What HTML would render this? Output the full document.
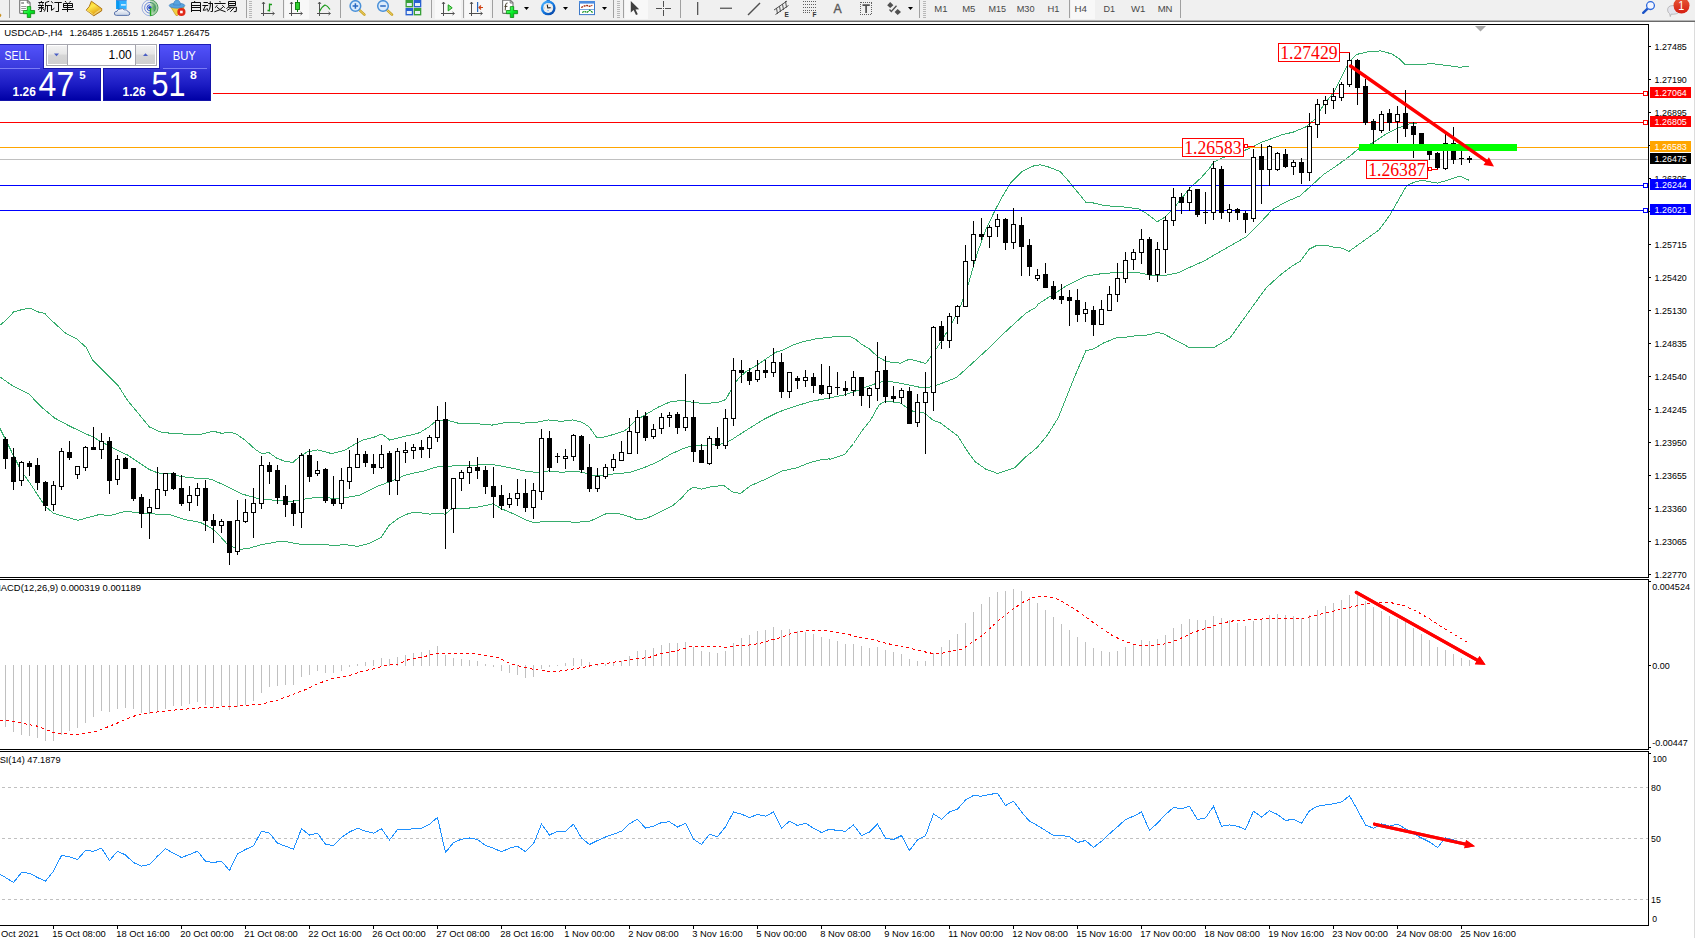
<!DOCTYPE html>
<html><head><meta charset="utf-8"><title>USDCAD-,H4</title>
<style>html,body{margin:0;padding:0;background:#fff;overflow:hidden}svg{display:block}text{font-family:"Liberation Sans",sans-serif}</style></head><body>
<svg width="1695" height="938" viewBox="0 0 1695 938">
<defs>
<linearGradient id="gb" x1="0" y1="0" x2="0" y2="1"><stop offset="0" stop-color="#3c3ce0"/><stop offset="1" stop-color="#1010c0"/></linearGradient>
<linearGradient id="gp" x1="0" y1="0" x2="0" y2="1"><stop offset="0" stop-color="#2a2ad8"/><stop offset="1" stop-color="#0000a0"/></linearGradient>
<clipPath id="cm"><rect x="0" y="25" width="1648" height="552"/></clipPath>
</defs>
<rect width="1695" height="938" fill="#fff"/>
<g shape-rendering="crispEdges"><rect x="0" y="0" width="1695" height="20" fill="#f0f0f0"/><rect x="0" y="20" width="1695" height="1" fill="#b4b4b4"/><rect x="0" y="21" width="1695" height="1" fill="#696969"/>
<rect x="9" y="0" width="1" height="18" fill="#a0a0a0"/>
<rect x="246" y="0" width="1" height="18" fill="#a0a0a0"/>
<rect x="283" y="0" width="1" height="18" fill="#a0a0a0"/>
<rect x="340" y="0" width="1" height="18" fill="#a0a0a0"/>
<rect x="431" y="0" width="1" height="18" fill="#a0a0a0"/>
<rect x="463" y="0" width="1" height="18" fill="#a0a0a0"/>
<rect x="492" y="0" width="1" height="18" fill="#a0a0a0"/>
<rect x="613" y="0" width="1" height="18" fill="#a0a0a0"/>
<rect x="623" y="0" width="1" height="18" fill="#a0a0a0"/>
<rect x="680" y="0" width="1" height="18" fill="#a0a0a0"/>
<rect x="919" y="0" width="1" height="18" fill="#a0a0a0"/>
<rect x="1180" y="0" width="1" height="18" fill="#a0a0a0"/>
<rect x="1069" y="0" width="1" height="18" fill="#a0a0a0"/><rect x="435" y="0" width="1" height="18" fill="#b4b4b4"/>
<rect x="249" y="1" width="3" height="1" fill="#b8b8b8"/>
<rect x="249" y="3" width="3" height="1" fill="#b8b8b8"/>
<rect x="249" y="5" width="3" height="1" fill="#b8b8b8"/>
<rect x="249" y="7" width="3" height="1" fill="#b8b8b8"/>
<rect x="249" y="9" width="3" height="1" fill="#b8b8b8"/>
<rect x="249" y="11" width="3" height="1" fill="#b8b8b8"/>
<rect x="249" y="13" width="3" height="1" fill="#b8b8b8"/>
<rect x="249" y="15" width="3" height="1" fill="#b8b8b8"/>
<rect x="249" y="17" width="3" height="1" fill="#b8b8b8"/>
<rect x="617" y="1" width="3" height="1" fill="#b8b8b8"/>
<rect x="617" y="3" width="3" height="1" fill="#b8b8b8"/>
<rect x="617" y="5" width="3" height="1" fill="#b8b8b8"/>
<rect x="617" y="7" width="3" height="1" fill="#b8b8b8"/>
<rect x="617" y="9" width="3" height="1" fill="#b8b8b8"/>
<rect x="617" y="11" width="3" height="1" fill="#b8b8b8"/>
<rect x="617" y="13" width="3" height="1" fill="#b8b8b8"/>
<rect x="617" y="15" width="3" height="1" fill="#b8b8b8"/>
<rect x="617" y="17" width="3" height="1" fill="#b8b8b8"/>
<rect x="923" y="1" width="3" height="1" fill="#b8b8b8"/>
<rect x="923" y="3" width="3" height="1" fill="#b8b8b8"/>
<rect x="923" y="5" width="3" height="1" fill="#b8b8b8"/>
<rect x="923" y="7" width="3" height="1" fill="#b8b8b8"/>
<rect x="923" y="9" width="3" height="1" fill="#b8b8b8"/>
<rect x="923" y="11" width="3" height="1" fill="#b8b8b8"/>
<rect x="923" y="13" width="3" height="1" fill="#b8b8b8"/>
<rect x="923" y="15" width="3" height="1" fill="#b8b8b8"/>
<rect x="923" y="17" width="3" height="1" fill="#b8b8b8"/>
<rect x="285" y="0" width="24" height="19" fill="#f8f8f8"/>
<rect x="435" y="0" width="26" height="19" fill="#f8f8f8"/>
<rect x="465" y="0" width="25" height="19" fill="#f8f8f8"/>
<rect x="625" y="0" width="23" height="19" fill="#f8f8f8"/>
<rect x="1071" y="0" width="24" height="19" fill="#f8f8f8"/>
</g>
<path d="M0 13.5 L1.5 15 L0.5 17 L0 17 Z" fill="#c89020"/>
<defs><linearGradient id="gplus" x1="0" y1="0" x2="1" y2="1"><stop offset="0" stop-color="#7cff90"/><stop offset="0.5" stop-color="#08ee28"/><stop offset="1" stop-color="#00a818"/></linearGradient></defs>
<path d="M20.3 0.2 H27.5 L30.1 2.8 V12.4 Q30.1 13.4 29.1 13.4 H20.700000000000003 Q19.700000000000003 13.4 19.700000000000003 12.4 V0.8 Q19.700000000000003 0.2 20.3 0.2 Z" fill="#fff" stroke="#747474" stroke-width="1.1"/>
<path d="M27.3 0.4 V3 H29.900000000000002" fill="none" stroke="#747474" stroke-width="1"/>
<rect x="21.2" y="2.2" width="2.8" height="1.6" fill="#8c8c8c"/><g stroke="#8c8c8c" stroke-width="0.9"><path d="M21.2 6.5H26.4M21.2 8.5H26M21.2 10.5H23.4"/></g>
<path d="M27.3 6.6 H30.700000000000003 V10.5 H34.6 V13.7 H30.700000000000003 V17.5 H27.3 V13.7 H23.400000000000002 V10.5 H27.3 Z" fill="url(#gplus)" stroke="#0a8a0a" stroke-width="0.8" stroke-linejoin="miter"/>
<g fill="none" stroke="#000" stroke-width="1" stroke-linecap="butt" opacity="0.95">
<path d="M41 1 L41.8 2 M38.4 2.5 H44 M39.5 3.3 L40 4.6 M42.8 3.3 L42.3 4.6 M38 5.5 H44 M38.4 7.5 H43.8 M41.5 5.5 V11.5 H39.6 M40.8 7.8 L38.2 9.8 M42.2 7.8 L44 10"/>
<path d="M49.2 1.3 L45.4 2.6 M45.5 2.6 V7.5 Q45.4 10 44.2 11.6 M45.5 5.5 H50 M47.5 5.5 V12"/>
<path d="M51.3 1.3 L52.8 3.2 M50.2 5.5 H52 M51.5 5.5 V10.4 L54.4 8.2 M54.4 2.5 H61.8 M58.5 2.5 V11.5 H55.6"/>
<path d="M65 1 L66.4 2.6 M70.7 1 L69.3 2.6 M63.5 3.5 H72.5 V7.5 H63.5 Z M63.5 5.5 H72.5 M67.5 3.5 V12 M62 9.5 H74"/>
<path d="M195 1 L194 2.4 M191.5 2.5 H200.5 V12 M191.5 2.5 V12 M191.5 5.5 H200.5 M191.5 7.5 H200.5 M191.5 10.5 H200.5"/>
<path d="M203.5 2.5 H207.9 M202.4 5.5 H208.2 M205.5 5.5 L203.2 10.3 L206.5 9.8 M206.9 8.2 L207.8 10.6 M208.2 3.5 H212.9 M212.5 3.5 V11.5 H210.6 M210.3 1.3 V6 Q210 9.5 207.9 11.8"/>
<path d="M219.7 1 L220.3 2.4 M214.4 3.5 H225.6 M217.3 5.2 L215.3 7.7 M222.3 5.2 L224.7 7.7 M222.9 7.2 Q220.5 10.3 214.4 11.8 M217 7.2 Q219.5 10.3 225.6 11.8"/>
<path d="M228.5 1.5 H235.5 V5.5 H228.5 Z M228.5 3.5 H235.5 M229.7 5.6 L226.5 8.8 M228.2 7.3 H236.6 M236.5 7.3 L236.2 11.5 L233.8 11.7 M231.8 7.4 L227 10.5 M234.4 7.4 L230.3 11.8"/>
</g>
<defs><linearGradient id="gbook" x1="0.2" y1="0" x2="0.7" y2="1"><stop offset="0" stop-color="#f8c820"/><stop offset="0.35" stop-color="#ffe84c"/><stop offset="0.75" stop-color="#e8b020"/><stop offset="1" stop-color="#c08010"/></linearGradient>
<linearGradient id="gcloud" x1="0" y1="0" x2="0" y2="1"><stop offset="0" stop-color="#ffffff"/><stop offset="1" stop-color="#c4d0e4"/></linearGradient>
<radialGradient id="gsig" cx="0.5" cy="0.5" r="0.5"><stop offset="0.2" stop-color="#58a858" stop-opacity="0.9"/><stop offset="1" stop-color="#7cc07c" stop-opacity="0.35"/></radialGradient></defs>
<path d="M91.4 1.2 L101.8 8.7 L101.6 10.9 L93.8 15.8 L86.2 10.1 L89.2 6.6 Z" fill="url(#gbook)" stroke="#a86c0c" stroke-width="0.9" stroke-linejoin="round"/>
<path d="M94 14.6 L101.2 9.8 M94.4 13.6 L100.6 9.4" stroke="#fff0b0" stroke-width="0.5" fill="none"/>
<path d="M86.8 10 L93.8 14.8" stroke="#fce878" stroke-width="0.8" fill="none"/>
<path d="M116.2 0 H126.6 V9 H116.2 Z" fill="#30b0ff"/><path d="M116.2 0 L119.4 1.6 V9 H116.2 Z" fill="#0898f0"/><rect x="121" y="4.2" width="4.8" height="1.4" fill="#e8f6ff"/><path d="M116.2 0 H126.6" stroke="#5878c8" stroke-width="1.2"/>
<path d="M116.6 15.4 Q114 15.4 114.4 13 Q114.8 11.2 117 11.3 Q117.6 8.8 120.4 9 Q122.6 7.8 124.2 9.8 Q127.2 9.2 127.8 11.6 Q130.2 12 129.8 14 Q129.4 15.4 127.6 15.4 Z" fill="url(#gcloud)" stroke="#4c68a4" stroke-width="0.9"/>
<path d="M150 -0.2 A8 8 0 0 1 150 15.8 Z" fill="url(#gsig)"/>
<g fill="none" stroke-width="1"><path d="M150 -0.2 A8 8 0 0 0 150 15.8" stroke="#5878d0" opacity="0.55"/><path d="M150 2.4 A5.4 5.4 0 0 0 150 13.2" stroke="#4468d0" opacity="0.75"/><path d="M150 4.8 A3 3 0 0 0 150 10.8" stroke="#3c5cd0"/>
<path d="M150 -0.2 A8 8 0 0 1 150 15.8" stroke="#4c9c5c"/><path d="M150 2.4 A5.4 5.4 0 0 1 154 11.4" stroke="#3c8c6c"/></g>
<circle cx="149.8" cy="7.6" r="1.7" fill="#2848c8"/><rect x="149.8" y="8" width="1.5" height="7.8" fill="#1ca81c"/>
<path d="M170.5 6.5 L184 6.5 L183.5 9 L177.5 15.5 L176 15.5 Z" fill="#f0d040" stroke="#c09820" stroke-width="0.7"/>
<ellipse cx="177" cy="5.6" rx="7.8" ry="2.6" fill="#58a4e0" stroke="#3878b8" stroke-width="0.6"/>
<path d="M173.5 5 Q174 0 177 0 Q180 0 180.5 5 Z" fill="#58a4e0" stroke="#3878b8" stroke-width="0.6"/>
<circle cx="181.4" cy="12" r="4.1" fill="#e02818"/><rect x="180.1" y="10.7" width="2.6" height="2.6" fill="#fff"/>
<path d="M263.5 2 V15.5 M261 13.5 H274" stroke="#505050" stroke-width="1" fill="none" shape-rendering="crispEdges"/>
<path d="M262 4 L263.5 2 L265 4 M272.5 12 L274.5 13.5 L272.5 15" stroke="#505050" stroke-width="0.9" fill="none"/>
<path d="M269.5 3.5 V11.5 M269.5 4.5 H272 M267.5 10.5 H269.5" stroke="#1a9a1a" stroke-width="1.3" fill="none"/>
<path d="M291.5 2 V15.5 M289 13.5 H302" stroke="#505050" stroke-width="1" fill="none" shape-rendering="crispEdges"/>
<path d="M290 4 L291.5 2 L293 4 M300.5 12 L302.5 13.5 L300.5 15" stroke="#505050" stroke-width="0.9" fill="none"/>
<rect x="297" y="0" width="1" height="12" fill="#0a7a0a" shape-rendering="crispEdges"/><rect x="295.5" y="2.5" width="4" height="7" fill="#30d030" stroke="#0a7a0a" stroke-width="0.9"/>
<path d="M319.5 2 V15.5 M317 13.5 H330" stroke="#505050" stroke-width="1" fill="none" shape-rendering="crispEdges"/>
<path d="M318 4 L319.5 2 L321 4 M328.5 12 L330.5 13.5 L328.5 15" stroke="#505050" stroke-width="0.9" fill="none"/>
<path d="M319.5 11.5 Q322 6.5 325 5 Q327.5 5.5 330 9.5" stroke="#1a9a1a" stroke-width="1.2" fill="none"/>
<path d="M359.0 9.6 L364.4 14.6" stroke="#c8a020" stroke-width="2.6" stroke-linecap="round"/>
<path d="M359.0 9.6 L364.4 14.6" stroke="#f0d870" stroke-width="1" stroke-linecap="round"/>
<circle cx="355.4" cy="6" r="5.3" fill="#dcecfc" stroke="#4a90d8" stroke-width="1.5"/>
<path d="M352.59999999999997 6 H358.2 M355.4 3.2 V8.8" stroke="#2868c0" stroke-width="1.5" fill="none"/>
<path d="M386.6 9.6 L392 14.6" stroke="#c8a020" stroke-width="2.6" stroke-linecap="round"/>
<path d="M386.6 9.6 L392 14.6" stroke="#f0d870" stroke-width="1" stroke-linecap="round"/>
<circle cx="383" cy="6" r="5.3" fill="#dcecfc" stroke="#4a90d8" stroke-width="1.5"/>
<path d="M380.2 6 H385.8" stroke="#2868c0" stroke-width="1.5" fill="none"/>
<rect x="405.5" y="0" width="7.6" height="7.4" fill="#38a038"/><rect x="406.8" y="3" width="5" height="3" fill="#e8f0f8"/>
<rect x="413.7" y="0" width="7.6" height="7.4" fill="#2860d0"/><rect x="415.0" y="3" width="5" height="3" fill="#e8f0f8"/>
<rect x="405.5" y="8" width="7.6" height="7.4" fill="#2860d0"/><rect x="406.8" y="11" width="5" height="3" fill="#e8f0f8"/>
<rect x="413.7" y="8" width="7.6" height="7.4" fill="#38a038"/><rect x="415.0" y="11" width="5" height="3" fill="#e8f0f8"/>
<path d="M443.5 2 V15.5 M441 13.5 H454" stroke="#505050" stroke-width="1" fill="none" shape-rendering="crispEdges"/>
<path d="M442 4 L443.5 2 L445 4 M452.5 12 L454.5 13.5 L452.5 15" stroke="#505050" stroke-width="0.9" fill="none"/>
<path d="M448.2 4.8 L452.2 7.8 L448.2 10.9 Z" fill="#78e478" stroke="#18a018" stroke-width="1"/>
<path d="M471.5 2 V15.5 M469 13.5 H482" stroke="#505050" stroke-width="1" fill="none" shape-rendering="crispEdges"/>
<path d="M470 4 L471.5 2 L473 4 M480.5 12 L482.5 13.5 L480.5 15" stroke="#505050" stroke-width="0.9" fill="none"/>
<rect x="477" y="2" width="1.2" height="10" fill="#2868c0"/><path d="M483 7.5 H479 M481 5.5 L479 7.5 L481 9.5" stroke="#d04010" stroke-width="1.1" fill="none"/>
<path d="M503.2 0.2 H510.4 L513 2.8 V12.4 Q513 13.4 512 13.4 H503.6 Q502.6 13.4 502.6 12.4 V0.8 Q502.6 0.2 503.2 0.2 Z" fill="#fff" stroke="#747474" stroke-width="1.1"/>
<path d="M510.2 0.4 V3 H512.8" fill="none" stroke="#747474" stroke-width="1"/>
<path d="M507.6 3 Q505.8 2.8 505.6 5 L505.2 10.4 M504.4 6.4 H507.4" stroke="#4a4430" stroke-width="1" fill="none"/>
<path d="M510.3 6.6 H513.7 V10.5 H517.6 V13.7 H513.7 V17.5 H510.3 V13.7 H506.40000000000003 V10.5 H510.3 Z" fill="url(#gplus)" stroke="#0a8a0a" stroke-width="0.8" stroke-linejoin="miter"/>
<path d="M524 7 L529 7 L526.5 10 Z" fill="#000"/>
<path d="M563 7 L568 7 L565.5 10 Z" fill="#000"/>
<path d="M602 7 L607 7 L604.5 10 Z" fill="#000"/>
<path d="M908 7 L913 7 L910.5 10 Z" fill="#000"/>
<defs><linearGradient id="gclk" x1="0.15" y1="0.1" x2="0.85" y2="0.9"><stop offset="0" stop-color="#48b0ff"/><stop offset="0.5" stop-color="#1478e0"/><stop offset="1" stop-color="#0848a8"/></linearGradient></defs>
<rect x="546.6" y="-0.6" width="3.2" height="1.8" fill="#1468d0"/>
<circle cx="548.2" cy="7.9" r="7.4" fill="url(#gclk)"/><circle cx="548.2" cy="7.9" r="5" fill="#f0f0ee"/>
<path d="M547.2 4.6 L547.8 8 L550.6 7.6" stroke="#202020" stroke-width="1.1" fill="none"/>
<g fill="#b0b0b0"><rect x="544" y="7.6" width="0.8" height="0.8"/><rect x="551.6" y="7.6" width="0.8" height="0.8"/><rect x="547.8" y="3.6" width="0.8" height="0.8"/></g><rect x="547.2" y="10.4" width="1.8" height="0.7" fill="#60a0ff"/>
<rect x="579.5" y="1.6" width="15" height="13" fill="#fff" stroke="#3c78c8" stroke-width="1"/><rect x="579" y="1.1" width="16" height="2.5" fill="#4c8ce0"/><rect x="580" y="9.2" width="14" height="0.8" fill="#5c90d8"/>
<path d="M581.2 7.5 L584 6.1 L587 5.4 L589.3 6.4 L592.3 5.4" stroke="#a02408" stroke-width="1.3" fill="none" stroke-dasharray="2 0.7"/>
<path d="M582.2 12.5 L584.5 11.3 L587 12.5 L589.7 10.1 L592.6 12.5" stroke="#109018" stroke-width="1.2" fill="none" stroke-dasharray="2 0.7"/>
<path d="M630.8 1 L630.8 12.5 L633.6 10 L636 15 L637.8 14.2 L635.5 9.4 L639.2 9.2 Z" fill="#404040"/>
<path d="M663.5 1 V16 M656 8.5 H671" stroke="#505050" stroke-width="1.1" fill="none" shape-rendering="crispEdges"/>
<rect x="662" y="7" width="3" height="3" fill="#f0f0f0" shape-rendering="crispEdges"/><rect x="663" y="8" width="1" height="1" fill="#505050" shape-rendering="crispEdges"/>
<rect x="697" y="2" width="1.3" height="13" fill="#585858"/>
<rect x="720" y="7.6" width="12" height="1.3" fill="#585858"/>
<path d="M748 15 L760 3" stroke="#505050" stroke-width="1.4"/>
<g stroke="#505050" stroke-width="1" fill="none"><path d="M774 10 L787 1 M775.5 14.5 L788.5 5.5 M776.5 8 L777.5 14 M779.5 6 L780.5 12 M782.5 4 L783.5 10 M785.5 1 L786.5 7.5"/></g>
<text x="784.6" y="16.8" font-size="6.5" font-weight="bold" fill="#303030">E</text>
<g stroke="#606060" stroke-width="1" stroke-dasharray="1 1" shape-rendering="crispEdges"><path d="M803 1.5 H816 M803 4.5 H816 M803 7.5 H816 M803 10.5 H816 M803 12.5 H811"/></g>
<text x="812.4" y="16.8" font-size="6.5" font-weight="bold" fill="#303030">F</text>
<text x="833.6" y="13" font-size="12.5" fill="#585858" stroke="#585858" stroke-width="0.35" textLength="8.2" lengthAdjust="spacingAndGlyphs">A</text>
<rect x="860.5" y="2" width="11" height="12.5" fill="none" stroke="#606060" stroke-width="1" stroke-dasharray="1 1" shape-rendering="crispEdges"/>
<path d="M862.5 5.2 H869.8 M866.1 5.2 V13" stroke="#505050" stroke-width="1.7" fill="none"/>
<path d="M890.2 2 L893.4 5.2 L890.2 8 L887.2 5.2 Z" fill="#505050"/><path d="M897.6 9 L901 12 L897.6 15 L894.6 12 Z" fill="#505050"/><path d="M889.5 9.5 L891.3 11.5 L896.5 5.8" stroke="#505050" stroke-width="1.3" fill="none"/>
<text x="934.3" y="11.6" font-size="9.2" fill="#484848" textLength="13.2" lengthAdjust="spacingAndGlyphs">M1</text>
<text x="962.2" y="11.6" font-size="9.2" fill="#484848" textLength="13.2" lengthAdjust="spacingAndGlyphs">M5</text>
<text x="988.5" y="11.6" font-size="9.2" fill="#484848" textLength="17.6" lengthAdjust="spacingAndGlyphs">M15</text>
<text x="1016.7" y="11.6" font-size="9.2" fill="#484848" textLength="17.8" lengthAdjust="spacingAndGlyphs">M30</text>
<text x="1047.4" y="11.6" font-size="9.2" fill="#484848" textLength="12" lengthAdjust="spacingAndGlyphs">H1</text>
<text x="1074.5" y="11.6" font-size="9.2" fill="#484848" textLength="12.5" lengthAdjust="spacingAndGlyphs">H4</text>
<text x="1103.5" y="11.6" font-size="9.2" fill="#484848" textLength="11.6" lengthAdjust="spacingAndGlyphs">D1</text>
<text x="1131" y="11.6" font-size="9.2" fill="#484848" textLength="14.4" lengthAdjust="spacingAndGlyphs">W1</text>
<text x="1157.7" y="11.6" font-size="9.2" fill="#484848" textLength="14.8" lengthAdjust="spacingAndGlyphs">MN</text>
<path d="M1647.6 8.6 L1643.2 12.8" stroke="#1c54c8" stroke-width="2.4" stroke-linecap="round"/>
<circle cx="1650.5" cy="5.6" r="3.9" fill="#f4f6ff" stroke="#2c68dc" stroke-width="1.3"/>
<path d="M1667.6 10 Q1667.6 5.6 1673 5.6 Q1679.4 5.6 1679.4 10 Q1679.4 14 1673.6 14.2 L1671 14.2 L1670.3 16.6 L1669.6 13.6 Q1667.6 12.4 1667.6 10 Z" fill="#e4e4ec" stroke="#b0b0b0" stroke-width="0.8"/>
<defs><linearGradient id="bdg" x1="0" y1="0" x2="0" y2="1"><stop offset="0" stop-color="#e85a38"/><stop offset="1" stop-color="#d41c10"/></linearGradient></defs>
<circle cx="1681.5" cy="5.6" r="8" fill="url(#bdg)"/>
<text x="1678.2" y="10" font-size="12.5" fill="#fff" textLength="6" lengthAdjust="spacingAndGlyphs">1</text>
<g shape-rendering="crispEdges">
<rect x="0" y="24" width="1649" height="1" fill="#000"/>
<rect x="1648" y="24" width="1" height="902" fill="#000"/>
<rect x="0" y="577" width="1649" height="1" fill="#000"/>
<rect x="0" y="579" width="1649" height="1" fill="#000"/>
<rect x="0" y="749" width="1649" height="1" fill="#000"/>
<rect x="0" y="751" width="1649" height="1" fill="#000"/>
<rect x="0" y="925" width="1649" height="1" fill="#000"/>
<rect x="1694" y="22" width="1" height="916" fill="#dcdcdc"/>
<rect x="1648" y="578" width="1" height="1" fill="#fff"/><rect x="1648" y="750" width="1" height="1" fill="#fff"/>
</g>
<g clip-path="url(#cm)">
<polyline points="0.0,325.2 6.4,319.9 13.9,311.7 21.3,309.8 29.9,308.1 37.3,311.7 44.8,313.5 53.3,322.0 66.1,333.7 76.8,339.0 86.4,347.6 92.8,360.4 106.6,374.2 118.3,385.9 127.9,400.9 138.6,413.7 149.3,426.9 159.9,431.8 170.6,433.3 187.6,434.3 200.4,434.3 213.2,431.2 221.7,433.3 229.2,432.2 235.6,433.5 245.2,440.3 255.9,449.9 262.3,453.8 268.7,452.5 277.2,458.4 285.7,461.6 293.2,462.3 298.5,457.4 307.0,452.0 317.9,449.9 323.3,451.4 331.8,453.6 344.6,450.4 355.3,444.0 363.8,439.7 374.4,437.1 381.9,433.9 389.8,440.1 404.3,436.5 417.9,433.3 420.5,432.1 429.1,426.8 435.5,421.4 446.1,419.9 457.8,423.1 476.0,423.6 492.0,425.1 505.8,422.5 522.9,423.1 535.7,422.5 548.5,419.9 561.3,421.4 573.0,419.9 582.6,422.5 589.0,426.8 596.4,437.0 603.9,437.0 614.6,434.2 623.9,431.0 626.5,429.4 635.1,420.9 645.7,414.5 658.5,407.0 671.3,401.3 684.1,400.6 694.8,402.8 707.6,403.4 718.2,402.3 725.7,399.6 731.0,390.0 738.5,378.2 745.9,371.8 756.6,365.4 767.3,358.0 775.8,352.2 782.2,350.5 792.8,345.2 803.5,341.6 816.3,338.8 829.9,337.3 834.7,336.5 849.6,336.5 854.9,338.7 861.3,344.2 868.8,348.5 877.3,356.4 885.8,361.3 892.2,362.3 900.8,363.2 909.3,359.1 917.8,361.3 925.9,363.4 932.7,354.2 943.4,338.2 951.9,323.3 960.5,306.2 968.5,283.5 977.1,253.7 985.6,230.2 995.2,210.0 1002.6,196.1 1011.2,182.2 1021.8,171.6 1032.5,166.2 1040.0,164.8 1049.6,167.3 1060.2,171.6 1068.7,181.2 1077.3,191.8 1085.8,202.1 1094.3,203.1 1102.9,205.3 1113.5,206.3 1126.3,207.2 1139.1,208.9 1147.6,214.2 1157.2,221.7 1164.7,217.4 1173.2,208.9 1181.7,198.2 1190.3,187.6 1200.9,178.0 1209.5,168.4 1213.7,162.0 1222.3,157.7 1237.2,153.5 1250.0,148.1 1262.8,141.7 1277.9,136.4 1280.7,135.2 1293.5,132.0 1306.3,126.7 1314.8,119.2 1323.4,105.3 1327.6,100.0 1334.1,91.8 1342.6,74.8 1349.0,62.0 1356.5,54.5 1368.2,51.7 1381.0,50.9 1391.7,53.9 1399.1,58.8 1404.5,64.1 1419.4,64.5 1432.2,63.7 1445.0,65.2 1459.9,67.3 1469.1,66.2" fill="none" stroke="#36ad6d" stroke-width="1" shape-rendering="crispEdges"/>
<polyline points="0.0,377.0 12.8,385.9 28.8,393.8 40.5,406.2 54.4,417.9 70.4,426.5 93.8,437.5 113.0,448.2 127.9,455.2 140.7,463.8 149.3,469.5 157.8,472.9 170.6,473.8 181.2,476.6 196.2,478.3 211.1,479.1 221.7,484.0 242.2,494.1 257.2,498.3 276.4,500.5 291.3,501.5 301.9,499.4 316.9,497.3 325.4,497.9 342.5,498.3 359.5,495.1 376.6,486.6 389.4,481.9 404.3,475.5 417.9,472.1 422.7,471.5 433.3,467.9 439.7,466.2 446.1,466.8 457.8,465.1 473.8,465.1 492.0,464.5 507.9,467.3 525.0,471.1 537.8,472.6 548.5,470.9 561.3,472.2 574.0,471.5 582.6,472.2 593.2,475.8 603.9,475.8 614.6,473.7 623.9,473.0 630.8,472.0 643.6,467.8 656.4,462.5 671.3,453.9 684.1,448.2 692.6,445.4 701.2,446.0 709.7,444.8 722.5,443.9 731.0,440.1 745.9,430.5 763.0,419.8 777.9,412.3 792.8,407.0 809.9,401.7 829.9,397.8 834.7,396.9 845.3,394.7 856.0,391.1 866.6,386.8 877.3,383.0 885.8,380.9 896.5,382.6 909.3,385.1 919.9,387.3 928.5,387.3 937.0,385.1 945.5,381.9 956.2,377.7 964.7,370.2 977.5,358.5 990.3,346.8 1003.1,334.0 1015.9,322.2 1026.6,312.6 1035.9,307.3 1038.1,304.1 1053.0,294.5 1067.9,284.9 1085.0,276.4 1102.0,273.6 1121.2,272.1 1138.3,272.7 1151.9,275.3 1152.8,275.5 1165.6,275.3 1178.4,272.7 1191.2,266.7 1204.0,261.0 1216.8,253.5 1231.7,245.0 1246.6,236.5 1259.4,223.7 1272.2,209.8 1285.0,202.3 1299.9,195.9 1310.6,186.4 1323.4,174.6 1336.2,166.1 1351.9,154.4 1357.6,149.4 1372.5,143.0 1385.3,134.5 1398.1,128.1 1410.9,123.2 1423.7,122.8 1436.5,122.8 1449.3,122.8 1466.3,122.8 1469.1,122.8" fill="none" stroke="#36ad6d" stroke-width="1" shape-rendering="crispEdges"/>
<polyline points="0.0,428.6 4.3,437.1 12.8,454.2 21.3,471.2 29.9,483.0 44.8,505.8 53.3,513.3 77.8,520.3 100.2,514.3 108.7,516.0 125.8,511.1 140.7,513.3 170.6,514.8 185.5,519.7 200.4,522.4 211.7,528.2 216.7,532.5 227.3,544.2 238.0,549.5 248.6,548.4 261.4,544.6 276.4,542.0 284.9,541.4 299.8,544.2 316.9,544.6 333.9,545.2 346.7,544.8 357.4,546.3 368.0,543.8 380.8,537.8 389.4,525.0 397.9,518.6 406.4,514.3 412.8,512.6 417.9,512.6 422.7,513.1 430.1,514.2 437.6,513.1 445.0,514.2 452.5,508.2 461.0,508.8 476.0,507.4 493.0,503.9 501.6,508.8 514.3,514.2 527.1,520.6 533.5,522.3 548.5,521.6 561.3,521.2 574.0,522.3 589.0,521.6 596.6,518.1 604.3,514.2 610.7,513.2 617.1,513.3 623.5,514.9 629.9,516.8 636.3,519.3 640.1,519.6 646.5,518.3 654.2,514.9 663.2,510.4 673.4,505.1 682.0,497.6 688.4,490.2 693.7,487.0 701.2,489.1 709.7,487.0 723.5,485.3 733.1,492.3 740.6,493.4 750.2,485.9 767.3,478.4 782.2,471.0 797.1,467.8 809.9,462.5 820.6,459.9 829.9,458.8 830.0,459.5 844.9,454.2 853.5,443.5 862.0,430.7 870.5,420.1 879.0,405.1 885.4,400.9 891.8,401.9 900.4,403.0 908.9,409.4 915.3,412.2 923.8,412.6 933.4,420.5 939.8,422.6 949.4,429.7 957.9,436.1 966.5,449.9 975.0,461.6 985.7,469.1 997.4,473.4 1007.0,470.2 1014.4,468.0 1024.0,458.4 1036.8,447.8 1047.5,435.0 1058.1,417.9 1066.7,396.6 1075.2,375.3 1085.9,350.8 1094.4,348.6 1102.9,343.3 1115.7,338.0 1128.5,336.9 1130.0,336.2 1144.9,335.5 1151.3,334.1 1157.7,332.3 1164.1,334.1 1172.6,338.7 1181.2,343.0 1189.7,347.9 1202.5,347.3 1213.2,347.9 1221.7,343.0 1230.2,337.7 1238.7,325.9 1249.4,311.0 1260.1,296.1 1266.5,287.6 1279.3,275.8 1292.0,266.2 1300.6,260.9 1309.1,249.2 1316.6,245.4 1326.2,245.4 1334.7,247.5 1341.9,248.1 1349.0,251.4 1351.9,249.3 1378.9,230.0 1389.6,215.5 1398.1,200.6 1406.6,185.7 1415.1,181.8 1422.6,180.3 1430.1,181.8 1437.5,183.1 1447.1,180.3 1459.9,176.1 1469.1,180.3" fill="none" stroke="#36ad6d" stroke-width="1" shape-rendering="crispEdges"/>
<g shape-rendering="crispEdges">
<rect x="213" y="93" width="1435" height="1" fill="#ff0000"/>
<rect x="0" y="122" width="1648" height="1" fill="#ff0000"/>
<rect x="0" y="147" width="1648" height="1" fill="#ffa500"/>
<rect x="0" y="159" width="1648" height="1" fill="#c0c0c0"/>
<rect x="0" y="185" width="1648" height="1" fill="#0000ff"/>
<rect x="0" y="210" width="1648" height="1" fill="#0000ff"/>
<rect x="5" y="437" width="1" height="32" fill="#000"/>
<rect x="3" y="439" width="5" height="20" fill="#000"/>
<rect x="13" y="448" width="1" height="42" fill="#000"/>
<rect x="11" y="457" width="5" height="25" fill="#000"/>
<rect x="21" y="461" width="1" height="25" fill="#000"/>
<rect x="19" y="462" width="5" height="19" fill="#000"/><rect x="20" y="463" width="3" height="17" fill="#fff"/>
<rect x="29" y="461" width="1" height="15" fill="#000"/>
<rect x="27" y="463" width="5" height="4" fill="#000"/>
<rect x="37" y="458" width="1" height="32" fill="#000"/>
<rect x="35" y="465" width="5" height="18" fill="#000"/>
<rect x="45" y="481" width="1" height="30" fill="#000"/>
<rect x="43" y="482" width="5" height="24" fill="#000"/>
<rect x="53" y="481" width="1" height="30" fill="#000"/>
<rect x="51" y="485" width="5" height="20" fill="#000"/><rect x="52" y="486" width="3" height="18" fill="#fff"/>
<rect x="61" y="448" width="1" height="42" fill="#000"/>
<rect x="59" y="451" width="5" height="36" fill="#000"/><rect x="60" y="452" width="3" height="34" fill="#fff"/>
<rect x="69" y="441" width="1" height="19" fill="#000"/>
<rect x="67" y="452" width="5" height="6" fill="#000"/>
<rect x="77" y="466" width="1" height="13" fill="#000"/>
<rect x="75" y="466" width="5" height="9" fill="#000"/><rect x="76" y="467" width="3" height="7" fill="#fff"/>
<rect x="85" y="446" width="1" height="25" fill="#000"/>
<rect x="83" y="447" width="5" height="21" fill="#000"/><rect x="84" y="448" width="3" height="19" fill="#fff"/>
<rect x="93" y="427" width="1" height="23" fill="#000"/>
<rect x="91" y="447" width="5" height="3" fill="#000"/>
<rect x="101" y="433" width="1" height="26" fill="#000"/>
<rect x="99" y="441" width="5" height="9" fill="#000"/><rect x="100" y="442" width="3" height="7" fill="#fff"/>
<rect x="109" y="437" width="1" height="57" fill="#000"/>
<rect x="107" y="441" width="5" height="40" fill="#000"/>
<rect x="117" y="455" width="1" height="30" fill="#000"/>
<rect x="115" y="459" width="5" height="21" fill="#000"/><rect x="116" y="460" width="3" height="19" fill="#fff"/>
<rect x="125" y="457" width="1" height="12" fill="#000"/>
<rect x="123" y="458" width="5" height="11" fill="#000"/>
<rect x="133" y="468" width="1" height="33" fill="#000"/>
<rect x="131" y="468" width="5" height="31" fill="#000"/>
<rect x="141" y="494" width="1" height="34" fill="#000"/>
<rect x="139" y="497" width="5" height="17" fill="#000"/>
<rect x="149" y="499" width="1" height="40" fill="#000"/>
<rect x="147" y="507" width="5" height="6" fill="#000"/><rect x="148" y="508" width="3" height="4" fill="#fff"/>
<rect x="157" y="467" width="1" height="42" fill="#000"/>
<rect x="155" y="489" width="5" height="20" fill="#000"/><rect x="156" y="490" width="3" height="18" fill="#fff"/>
<rect x="165" y="473" width="1" height="23" fill="#000"/>
<rect x="163" y="473" width="5" height="18" fill="#000"/><rect x="164" y="474" width="3" height="16" fill="#fff"/>
<rect x="173" y="472" width="1" height="18" fill="#000"/>
<rect x="171" y="473" width="5" height="16" fill="#000"/>
<rect x="181" y="475" width="1" height="31" fill="#000"/>
<rect x="179" y="488" width="5" height="16" fill="#000"/>
<rect x="189" y="486" width="1" height="25" fill="#000"/>
<rect x="187" y="495" width="5" height="8" fill="#000"/><rect x="188" y="496" width="3" height="6" fill="#fff"/>
<rect x="197" y="483" width="1" height="23" fill="#000"/>
<rect x="195" y="488" width="5" height="8" fill="#000"/><rect x="196" y="489" width="3" height="6" fill="#fff"/>
<rect x="205" y="480" width="1" height="51" fill="#000"/>
<rect x="203" y="488" width="5" height="33" fill="#000"/>
<rect x="213" y="514" width="1" height="29" fill="#000"/>
<rect x="211" y="520" width="5" height="6" fill="#000"/>
<rect x="221" y="519" width="1" height="14" fill="#000"/>
<rect x="219" y="521" width="5" height="5" fill="#000"/><rect x="220" y="522" width="3" height="3" fill="#fff"/>
<rect x="229" y="521" width="1" height="44" fill="#000"/>
<rect x="227" y="521" width="5" height="32" fill="#000"/>
<rect x="237" y="500" width="1" height="55" fill="#000"/>
<rect x="235" y="520" width="5" height="32" fill="#000"/><rect x="236" y="521" width="3" height="30" fill="#fff"/>
<rect x="245" y="499" width="1" height="24" fill="#000"/>
<rect x="243" y="512" width="5" height="10" fill="#000"/><rect x="244" y="513" width="3" height="8" fill="#fff"/>
<rect x="253" y="488" width="1" height="50" fill="#000"/>
<rect x="251" y="503" width="5" height="10" fill="#000"/><rect x="252" y="504" width="3" height="8" fill="#fff"/>
<rect x="261" y="456" width="1" height="53" fill="#000"/>
<rect x="259" y="465" width="5" height="39" fill="#000"/><rect x="260" y="466" width="3" height="37" fill="#fff"/>
<rect x="269" y="462" width="1" height="22" fill="#000"/>
<rect x="267" y="465" width="5" height="7" fill="#000"/>
<rect x="277" y="465" width="1" height="39" fill="#000"/>
<rect x="275" y="470" width="5" height="28" fill="#000"/>
<rect x="285" y="485" width="1" height="32" fill="#000"/>
<rect x="283" y="496" width="5" height="9" fill="#000"/>
<rect x="293" y="500" width="1" height="26" fill="#000"/>
<rect x="291" y="503" width="5" height="11" fill="#000"/>
<rect x="301" y="453" width="1" height="75" fill="#000"/>
<rect x="299" y="455" width="5" height="58" fill="#000"/><rect x="300" y="456" width="3" height="56" fill="#fff"/>
<rect x="309" y="449" width="1" height="33" fill="#000"/>
<rect x="307" y="455" width="5" height="22" fill="#000"/>
<rect x="317" y="461" width="1" height="15" fill="#000"/>
<rect x="315" y="470" width="5" height="4" fill="#000"/><rect x="316" y="471" width="3" height="2" fill="#fff"/>
<rect x="325" y="468" width="1" height="35" fill="#000"/>
<rect x="323" y="469" width="5" height="32" fill="#000"/>
<rect x="333" y="476" width="1" height="30" fill="#000"/>
<rect x="331" y="499" width="5" height="5" fill="#000"/>
<rect x="341" y="468" width="1" height="41" fill="#000"/>
<rect x="339" y="480" width="5" height="24" fill="#000"/><rect x="340" y="481" width="3" height="22" fill="#fff"/>
<rect x="349" y="450" width="1" height="39" fill="#000"/>
<rect x="347" y="467" width="5" height="15" fill="#000"/><rect x="348" y="468" width="3" height="13" fill="#fff"/>
<rect x="357" y="438" width="1" height="30" fill="#000"/>
<rect x="355" y="454" width="5" height="14" fill="#000"/><rect x="356" y="455" width="3" height="12" fill="#fff"/>
<rect x="365" y="451" width="1" height="16" fill="#000"/>
<rect x="363" y="454" width="5" height="9" fill="#000"/>
<rect x="373" y="454" width="1" height="20" fill="#000"/>
<rect x="371" y="464" width="5" height="4" fill="#000"/>
<rect x="381" y="445" width="1" height="24" fill="#000"/>
<rect x="379" y="454" width="5" height="14" fill="#000"/><rect x="380" y="455" width="3" height="12" fill="#fff"/>
<rect x="389" y="451" width="1" height="44" fill="#000"/>
<rect x="387" y="453" width="5" height="29" fill="#000"/>
<rect x="397" y="448" width="1" height="47" fill="#000"/>
<rect x="395" y="451" width="5" height="30" fill="#000"/><rect x="396" y="452" width="3" height="28" fill="#fff"/>
<rect x="405" y="442" width="1" height="21" fill="#000"/>
<rect x="403" y="450" width="5" height="3" fill="#000"/><rect x="404" y="451" width="3" height="1" fill="#fff"/>
<rect x="413" y="444" width="1" height="15" fill="#000"/>
<rect x="411" y="447" width="5" height="4" fill="#000"/><rect x="412" y="448" width="3" height="2" fill="#fff"/>
<rect x="421" y="440" width="1" height="18" fill="#000"/>
<rect x="419" y="447" width="5" height="3" fill="#000"/>
<rect x="429" y="435" width="1" height="23" fill="#000"/>
<rect x="427" y="437" width="5" height="12" fill="#000"/><rect x="428" y="438" width="3" height="10" fill="#fff"/>
<rect x="437" y="406" width="1" height="36" fill="#000"/>
<rect x="435" y="420" width="5" height="18" fill="#000"/><rect x="436" y="421" width="3" height="16" fill="#fff"/>
<rect x="445" y="402" width="1" height="147" fill="#000"/>
<rect x="443" y="419" width="5" height="90" fill="#000"/>
<rect x="453" y="478" width="1" height="55" fill="#000"/>
<rect x="451" y="478" width="5" height="31" fill="#000"/><rect x="452" y="479" width="3" height="29" fill="#fff"/>
<rect x="461" y="470" width="1" height="21" fill="#000"/>
<rect x="459" y="472" width="5" height="7" fill="#000"/><rect x="460" y="473" width="3" height="5" fill="#fff"/>
<rect x="469" y="461" width="1" height="23" fill="#000"/>
<rect x="467" y="467" width="5" height="6" fill="#000"/><rect x="468" y="468" width="3" height="4" fill="#fff"/>
<rect x="477" y="457" width="1" height="22" fill="#000"/>
<rect x="475" y="467" width="5" height="4" fill="#000"/>
<rect x="485" y="466" width="1" height="28" fill="#000"/>
<rect x="483" y="470" width="5" height="17" fill="#000"/>
<rect x="493" y="467" width="1" height="51" fill="#000"/>
<rect x="491" y="486" width="5" height="11" fill="#000"/>
<rect x="501" y="485" width="1" height="25" fill="#000"/>
<rect x="499" y="495" width="5" height="11" fill="#000"/>
<rect x="509" y="493" width="1" height="15" fill="#000"/>
<rect x="507" y="498" width="5" height="7" fill="#000"/><rect x="508" y="499" width="3" height="5" fill="#fff"/>
<rect x="517" y="479" width="1" height="27" fill="#000"/>
<rect x="515" y="493" width="5" height="6" fill="#000"/><rect x="516" y="494" width="3" height="4" fill="#fff"/>
<rect x="525" y="479" width="1" height="33" fill="#000"/>
<rect x="523" y="493" width="5" height="15" fill="#000"/>
<rect x="533" y="483" width="1" height="36" fill="#000"/>
<rect x="531" y="490" width="5" height="18" fill="#000"/><rect x="532" y="491" width="3" height="16" fill="#fff"/>
<rect x="541" y="429" width="1" height="71" fill="#000"/>
<rect x="539" y="438" width="5" height="54" fill="#000"/><rect x="540" y="439" width="3" height="52" fill="#fff"/>
<rect x="549" y="431" width="1" height="41" fill="#000"/>
<rect x="547" y="438" width="5" height="30" fill="#000"/>
<rect x="557" y="453" width="1" height="10" fill="#000"/>
<rect x="555" y="456" width="5" height="1" fill="#000"/>
<rect x="565" y="449" width="1" height="20" fill="#000"/>
<rect x="563" y="456" width="5" height="3" fill="#000"/><rect x="564" y="457" width="3" height="1" fill="#fff"/>
<rect x="573" y="434" width="1" height="27" fill="#000"/>
<rect x="571" y="435" width="5" height="22" fill="#000"/><rect x="572" y="436" width="3" height="20" fill="#fff"/>
<rect x="581" y="435" width="1" height="38" fill="#000"/>
<rect x="579" y="436" width="5" height="34" fill="#000"/>
<rect x="589" y="444" width="1" height="48" fill="#000"/>
<rect x="587" y="467" width="5" height="22" fill="#000"/>
<rect x="597" y="468" width="1" height="24" fill="#000"/>
<rect x="595" y="476" width="5" height="13" fill="#000"/><rect x="596" y="477" width="3" height="11" fill="#fff"/>
<rect x="605" y="464" width="1" height="15" fill="#000"/>
<rect x="603" y="467" width="5" height="10" fill="#000"/><rect x="604" y="468" width="3" height="8" fill="#fff"/>
<rect x="613" y="454" width="1" height="17" fill="#000"/>
<rect x="611" y="459" width="5" height="9" fill="#000"/><rect x="612" y="460" width="3" height="7" fill="#fff"/>
<rect x="621" y="441" width="1" height="20" fill="#000"/>
<rect x="619" y="452" width="5" height="9" fill="#000"/><rect x="620" y="453" width="3" height="7" fill="#fff"/>
<rect x="629" y="418" width="1" height="36" fill="#000"/>
<rect x="627" y="431" width="5" height="23" fill="#000"/><rect x="628" y="432" width="3" height="21" fill="#fff"/>
<rect x="637" y="410" width="1" height="44" fill="#000"/>
<rect x="635" y="417" width="5" height="16" fill="#000"/><rect x="636" y="418" width="3" height="14" fill="#fff"/>
<rect x="645" y="412" width="1" height="29" fill="#000"/>
<rect x="643" y="416" width="5" height="22" fill="#000"/>
<rect x="653" y="424" width="1" height="15" fill="#000"/>
<rect x="651" y="429" width="5" height="8" fill="#000"/><rect x="652" y="430" width="3" height="6" fill="#fff"/>
<rect x="661" y="413" width="1" height="21" fill="#000"/>
<rect x="659" y="417" width="5" height="12" fill="#000"/><rect x="660" y="418" width="3" height="10" fill="#fff"/>
<rect x="669" y="412" width="1" height="15" fill="#000"/>
<rect x="667" y="415" width="5" height="3" fill="#000"/><rect x="668" y="416" width="3" height="1" fill="#fff"/>
<rect x="677" y="412" width="1" height="22" fill="#000"/>
<rect x="675" y="414" width="5" height="14" fill="#000"/>
<rect x="685" y="374" width="1" height="57" fill="#000"/>
<rect x="683" y="417" width="5" height="11" fill="#000"/><rect x="684" y="418" width="3" height="9" fill="#fff"/>
<rect x="693" y="400" width="1" height="62" fill="#000"/>
<rect x="691" y="417" width="5" height="35" fill="#000"/>
<rect x="701" y="444" width="1" height="19" fill="#000"/>
<rect x="699" y="450" width="5" height="13" fill="#000"/>
<rect x="709" y="436" width="1" height="29" fill="#000"/>
<rect x="707" y="438" width="5" height="26" fill="#000"/><rect x="708" y="439" width="3" height="24" fill="#fff"/>
<rect x="717" y="427" width="1" height="22" fill="#000"/>
<rect x="715" y="438" width="5" height="8" fill="#000"/>
<rect x="725" y="409" width="1" height="40" fill="#000"/>
<rect x="723" y="418" width="5" height="28" fill="#000"/><rect x="724" y="419" width="3" height="26" fill="#fff"/>
<rect x="733" y="358" width="1" height="68" fill="#000"/>
<rect x="731" y="370" width="5" height="49" fill="#000"/><rect x="732" y="371" width="3" height="47" fill="#fff"/>
<rect x="741" y="360" width="1" height="23" fill="#000"/>
<rect x="739" y="370" width="5" height="3" fill="#000"/>
<rect x="749" y="368" width="1" height="17" fill="#000"/>
<rect x="747" y="372" width="5" height="9" fill="#000"/>
<rect x="757" y="360" width="1" height="22" fill="#000"/>
<rect x="755" y="370" width="5" height="10" fill="#000"/><rect x="756" y="371" width="3" height="8" fill="#fff"/>
<rect x="765" y="360" width="1" height="18" fill="#000"/>
<rect x="763" y="370" width="5" height="3" fill="#000"/>
<rect x="773" y="348" width="1" height="29" fill="#000"/>
<rect x="771" y="362" width="5" height="11" fill="#000"/><rect x="772" y="363" width="3" height="9" fill="#fff"/>
<rect x="781" y="353" width="1" height="45" fill="#000"/>
<rect x="779" y="362" width="5" height="30" fill="#000"/>
<rect x="789" y="372" width="1" height="26" fill="#000"/>
<rect x="787" y="372" width="5" height="20" fill="#000"/><rect x="788" y="373" width="3" height="18" fill="#fff"/>
<rect x="797" y="376" width="1" height="13" fill="#000"/>
<rect x="795" y="378" width="5" height="3" fill="#000"/>
<rect x="805" y="370" width="1" height="17" fill="#000"/>
<rect x="803" y="377" width="5" height="4" fill="#000"/><rect x="804" y="378" width="3" height="2" fill="#fff"/>
<rect x="813" y="373" width="1" height="20" fill="#000"/>
<rect x="811" y="377" width="5" height="9" fill="#000"/>
<rect x="821" y="364" width="1" height="31" fill="#000"/>
<rect x="819" y="385" width="5" height="9" fill="#000"/>
<rect x="829" y="366" width="1" height="33" fill="#000"/>
<rect x="827" y="386" width="5" height="8" fill="#000"/><rect x="828" y="387" width="3" height="6" fill="#fff"/>
<rect x="837" y="372" width="1" height="23" fill="#000"/>
<rect x="835" y="387" width="5" height="1" fill="#000"/>
<rect x="845" y="381" width="1" height="15" fill="#000"/>
<rect x="843" y="388" width="5" height="3" fill="#000"/>
<rect x="853" y="371" width="1" height="25" fill="#000"/>
<rect x="851" y="377" width="5" height="14" fill="#000"/><rect x="852" y="378" width="3" height="12" fill="#fff"/>
<rect x="861" y="377" width="1" height="29" fill="#000"/>
<rect x="859" y="377" width="5" height="19" fill="#000"/>
<rect x="869" y="387" width="1" height="21" fill="#000"/>
<rect x="867" y="388" width="5" height="8" fill="#000"/><rect x="868" y="389" width="3" height="6" fill="#fff"/>
<rect x="877" y="342" width="1" height="59" fill="#000"/>
<rect x="875" y="371" width="5" height="18" fill="#000"/><rect x="876" y="372" width="3" height="16" fill="#fff"/>
<rect x="885" y="356" width="1" height="47" fill="#000"/>
<rect x="883" y="370" width="5" height="27" fill="#000"/>
<rect x="893" y="386" width="1" height="16" fill="#000"/>
<rect x="891" y="396" width="5" height="3" fill="#000"/>
<rect x="901" y="388" width="1" height="16" fill="#000"/>
<rect x="899" y="390" width="5" height="8" fill="#000"/><rect x="900" y="391" width="3" height="6" fill="#fff"/>
<rect x="909" y="387" width="1" height="37" fill="#000"/>
<rect x="907" y="391" width="5" height="33" fill="#000"/>
<rect x="917" y="394" width="1" height="33" fill="#000"/>
<rect x="915" y="402" width="5" height="21" fill="#000"/><rect x="916" y="403" width="3" height="19" fill="#fff"/>
<rect x="925" y="372" width="1" height="82" fill="#000"/>
<rect x="923" y="392" width="5" height="11" fill="#000"/><rect x="924" y="393" width="3" height="9" fill="#fff"/>
<rect x="933" y="326" width="1" height="85" fill="#000"/>
<rect x="931" y="327" width="5" height="66" fill="#000"/><rect x="932" y="328" width="3" height="64" fill="#fff"/>
<rect x="941" y="321" width="1" height="28" fill="#000"/>
<rect x="939" y="326" width="5" height="15" fill="#000"/>
<rect x="949" y="313" width="1" height="35" fill="#000"/>
<rect x="947" y="316" width="5" height="25" fill="#000"/><rect x="948" y="317" width="3" height="23" fill="#fff"/>
<rect x="957" y="305" width="1" height="19" fill="#000"/>
<rect x="955" y="306" width="5" height="11" fill="#000"/><rect x="956" y="307" width="3" height="9" fill="#fff"/>
<rect x="965" y="245" width="1" height="62" fill="#000"/>
<rect x="963" y="261" width="5" height="46" fill="#000"/><rect x="964" y="262" width="3" height="44" fill="#fff"/>
<rect x="973" y="221" width="1" height="46" fill="#000"/>
<rect x="971" y="234" width="5" height="27" fill="#000"/><rect x="972" y="235" width="3" height="25" fill="#fff"/>
<rect x="981" y="218" width="1" height="22" fill="#000"/>
<rect x="979" y="234" width="5" height="3" fill="#000"/>
<rect x="989" y="225" width="1" height="23" fill="#000"/>
<rect x="987" y="227" width="5" height="10" fill="#000"/><rect x="988" y="228" width="3" height="8" fill="#fff"/>
<rect x="997" y="214" width="1" height="23" fill="#000"/>
<rect x="995" y="219" width="5" height="8" fill="#000"/><rect x="996" y="220" width="3" height="6" fill="#fff"/>
<rect x="1005" y="218" width="1" height="32" fill="#000"/>
<rect x="1003" y="219" width="5" height="24" fill="#000"/>
<rect x="1013" y="208" width="1" height="41" fill="#000"/>
<rect x="1011" y="224" width="5" height="19" fill="#000"/><rect x="1012" y="225" width="3" height="17" fill="#fff"/>
<rect x="1021" y="217" width="1" height="59" fill="#000"/>
<rect x="1019" y="225" width="5" height="22" fill="#000"/>
<rect x="1029" y="239" width="1" height="37" fill="#000"/>
<rect x="1027" y="245" width="5" height="22" fill="#000"/>
<rect x="1037" y="269" width="1" height="12" fill="#000"/>
<rect x="1035" y="275" width="5" height="4" fill="#000"/><rect x="1036" y="276" width="3" height="2" fill="#fff"/>
<rect x="1045" y="263" width="1" height="25" fill="#000"/>
<rect x="1043" y="274" width="5" height="14" fill="#000"/>
<rect x="1053" y="281" width="1" height="19" fill="#000"/>
<rect x="1051" y="286" width="5" height="13" fill="#000"/>
<rect x="1061" y="284" width="1" height="20" fill="#000"/>
<rect x="1059" y="296" width="5" height="4" fill="#000"/>
<rect x="1069" y="290" width="1" height="36" fill="#000"/>
<rect x="1067" y="297" width="5" height="4" fill="#000"/>
<rect x="1077" y="289" width="1" height="33" fill="#000"/>
<rect x="1075" y="300" width="5" height="15" fill="#000"/>
<rect x="1085" y="302" width="1" height="20" fill="#000"/>
<rect x="1083" y="309" width="5" height="5" fill="#000"/><rect x="1084" y="310" width="3" height="3" fill="#fff"/>
<rect x="1093" y="306" width="1" height="30" fill="#000"/>
<rect x="1091" y="310" width="5" height="15" fill="#000"/>
<rect x="1101" y="300" width="1" height="25" fill="#000"/>
<rect x="1099" y="309" width="5" height="16" fill="#000"/><rect x="1100" y="310" width="3" height="14" fill="#fff"/>
<rect x="1109" y="286" width="1" height="25" fill="#000"/>
<rect x="1107" y="294" width="5" height="17" fill="#000"/><rect x="1108" y="295" width="3" height="15" fill="#fff"/>
<rect x="1117" y="263" width="1" height="39" fill="#000"/>
<rect x="1115" y="278" width="5" height="17" fill="#000"/><rect x="1116" y="279" width="3" height="15" fill="#fff"/>
<rect x="1125" y="252" width="1" height="31" fill="#000"/>
<rect x="1123" y="260" width="5" height="19" fill="#000"/><rect x="1124" y="261" width="3" height="17" fill="#fff"/>
<rect x="1133" y="249" width="1" height="21" fill="#000"/>
<rect x="1131" y="252" width="5" height="8" fill="#000"/><rect x="1132" y="253" width="3" height="6" fill="#fff"/>
<rect x="1141" y="229" width="1" height="35" fill="#000"/>
<rect x="1139" y="239" width="5" height="14" fill="#000"/><rect x="1140" y="240" width="3" height="12" fill="#fff"/>
<rect x="1149" y="237" width="1" height="43" fill="#000"/>
<rect x="1147" y="239" width="5" height="36" fill="#000"/>
<rect x="1157" y="242" width="1" height="40" fill="#000"/>
<rect x="1155" y="249" width="5" height="26" fill="#000"/><rect x="1156" y="250" width="3" height="24" fill="#fff"/>
<rect x="1165" y="216" width="1" height="57" fill="#000"/>
<rect x="1163" y="220" width="5" height="30" fill="#000"/><rect x="1164" y="221" width="3" height="28" fill="#fff"/>
<rect x="1173" y="188" width="1" height="38" fill="#000"/>
<rect x="1171" y="197" width="5" height="24" fill="#000"/><rect x="1172" y="198" width="3" height="22" fill="#fff"/>
<rect x="1181" y="193" width="1" height="21" fill="#000"/>
<rect x="1179" y="197" width="5" height="6" fill="#000"/>
<rect x="1189" y="187" width="1" height="24" fill="#000"/>
<rect x="1187" y="190" width="5" height="13" fill="#000"/><rect x="1188" y="191" width="3" height="11" fill="#fff"/>
<rect x="1197" y="189" width="1" height="28" fill="#000"/>
<rect x="1195" y="189" width="5" height="26" fill="#000"/>
<rect x="1205" y="192" width="1" height="32" fill="#000"/>
<rect x="1203" y="212" width="5" height="1" fill="#000"/>
<rect x="1213" y="161" width="1" height="59" fill="#000"/>
<rect x="1211" y="168" width="5" height="45" fill="#000"/><rect x="1212" y="169" width="3" height="43" fill="#fff"/>
<rect x="1221" y="166" width="1" height="53" fill="#000"/>
<rect x="1219" y="169" width="5" height="44" fill="#000"/>
<rect x="1229" y="204" width="1" height="18" fill="#000"/>
<rect x="1227" y="209" width="5" height="4" fill="#000"/><rect x="1228" y="210" width="3" height="2" fill="#fff"/>
<rect x="1237" y="208" width="1" height="12" fill="#000"/>
<rect x="1235" y="209" width="5" height="4" fill="#000"/>
<rect x="1245" y="211" width="1" height="22" fill="#000"/>
<rect x="1243" y="213" width="5" height="7" fill="#000"/>
<rect x="1253" y="149" width="1" height="73" fill="#000"/>
<rect x="1251" y="157" width="5" height="62" fill="#000"/><rect x="1252" y="158" width="3" height="60" fill="#fff"/>
<rect x="1261" y="144" width="1" height="60" fill="#000"/>
<rect x="1259" y="156" width="5" height="14" fill="#000"/>
<rect x="1269" y="145" width="1" height="41" fill="#000"/>
<rect x="1267" y="146" width="5" height="24" fill="#000"/><rect x="1268" y="147" width="3" height="22" fill="#fff"/>
<rect x="1277" y="152" width="1" height="19" fill="#000"/>
<rect x="1275" y="153" width="5" height="17" fill="#000"/><rect x="1276" y="154" width="3" height="15" fill="#fff"/>
<rect x="1285" y="149" width="1" height="19" fill="#000"/>
<rect x="1283" y="154" width="5" height="13" fill="#000"/>
<rect x="1293" y="160" width="1" height="15" fill="#000"/>
<rect x="1291" y="162" width="5" height="5" fill="#000"/><rect x="1292" y="163" width="3" height="3" fill="#fff"/>
<rect x="1301" y="158" width="1" height="26" fill="#000"/>
<rect x="1299" y="162" width="5" height="11" fill="#000"/>
<rect x="1309" y="113" width="1" height="68" fill="#000"/>
<rect x="1307" y="126" width="5" height="47" fill="#000"/><rect x="1308" y="127" width="3" height="45" fill="#fff"/>
<rect x="1317" y="99" width="1" height="39" fill="#000"/>
<rect x="1315" y="104" width="5" height="21" fill="#000"/><rect x="1316" y="105" width="3" height="19" fill="#fff"/>
<rect x="1325" y="96" width="1" height="18" fill="#000"/>
<rect x="1323" y="100" width="5" height="5" fill="#000"/><rect x="1324" y="101" width="3" height="3" fill="#fff"/>
<rect x="1333" y="88" width="1" height="21" fill="#000"/>
<rect x="1331" y="96" width="5" height="5" fill="#000"/><rect x="1332" y="97" width="3" height="3" fill="#fff"/>
<rect x="1341" y="82" width="1" height="19" fill="#000"/>
<rect x="1339" y="84" width="5" height="14" fill="#000"/><rect x="1340" y="85" width="3" height="12" fill="#fff"/>
<rect x="1349" y="52" width="1" height="35" fill="#000"/>
<rect x="1347" y="60" width="5" height="25" fill="#000"/><rect x="1348" y="61" width="3" height="23" fill="#fff"/>
<rect x="1357" y="59" width="1" height="46" fill="#000"/>
<rect x="1355" y="60" width="5" height="28" fill="#000"/>
<rect x="1365" y="79" width="1" height="46" fill="#000"/>
<rect x="1363" y="86" width="5" height="37" fill="#000"/>
<rect x="1373" y="119" width="1" height="27" fill="#000"/>
<rect x="1371" y="121" width="5" height="9" fill="#000"/>
<rect x="1381" y="111" width="1" height="22" fill="#000"/>
<rect x="1379" y="114" width="5" height="17" fill="#000"/><rect x="1380" y="115" width="3" height="15" fill="#fff"/>
<rect x="1389" y="109" width="1" height="22" fill="#000"/>
<rect x="1387" y="113" width="5" height="10" fill="#000"/>
<rect x="1397" y="106" width="1" height="37" fill="#000"/>
<rect x="1395" y="114" width="5" height="8" fill="#000"/><rect x="1396" y="115" width="3" height="6" fill="#fff"/>
<rect x="1405" y="90" width="1" height="47" fill="#000"/>
<rect x="1403" y="113" width="5" height="16" fill="#000"/>
<rect x="1413" y="122" width="1" height="36" fill="#000"/>
<rect x="1411" y="126" width="5" height="9" fill="#000"/>
<rect x="1421" y="133" width="1" height="14" fill="#000"/>
<rect x="1419" y="133" width="5" height="14" fill="#000"/>
<rect x="1429" y="148" width="1" height="12" fill="#000"/>
<rect x="1427" y="148" width="5" height="7" fill="#000"/>
<rect x="1437" y="152" width="1" height="18" fill="#000"/>
<rect x="1435" y="153" width="5" height="15" fill="#000"/>
<rect x="1445" y="134" width="1" height="36" fill="#000"/>
<rect x="1443" y="143" width="5" height="26" fill="#000"/><rect x="1444" y="144" width="3" height="24" fill="#fff"/>
<rect x="1453" y="127" width="1" height="37" fill="#000"/>
<rect x="1451" y="143" width="5" height="17" fill="#000"/>
<rect x="1461" y="151" width="1" height="14" fill="#000"/>
<rect x="1459" y="158" width="5" height="1" fill="#000"/>
<rect x="1469" y="156" width="1" height="7" fill="#000"/>
<rect x="1467" y="158" width="5" height="2" fill="#000"/>
</g>
</g>
<path d="M1475 26 L1486 26 L1480.5 31.5 Z" fill="#a9a9a9"/>
<rect x="1359" y="144" width="158" height="7" fill="#00ff00" shape-rendering="crispEdges"/>
<rect x="1278.5" y="43.5" width="61" height="18" fill="#fff" stroke="#ff0000" stroke-width="1"/>
<text x="1280.2" y="59.0" font-family="Liberation Serif,serif" style="font-family:'Liberation Serif',serif"  font-size="19.4" fill="#ff0000" textLength="57.4" lengthAdjust="spacingAndGlyphs">1.27429</text>
<rect x="1340" y="52" width="10" height="1" fill="#ff0000" shape-rendering="crispEdges"/>
<rect x="1182.5" y="138.5" width="61" height="18" fill="#fff" stroke="#ff0000" stroke-width="1"/>
<text x="1184.2" y="154.0" font-family="Liberation Serif,serif" style="font-family:'Liberation Serif',serif"  font-size="19.4" fill="#ff0000" textLength="57.4" lengthAdjust="spacingAndGlyphs">1.26583</text>
<rect x="1244.5" y="144.5" width="3" height="3" fill="#fff" stroke="#ff0000"/><rect x="1248" y="146" width="7" height="1" fill="#ff0000" shape-rendering="crispEdges"/>
<rect x="1366.5" y="160.5" width="61" height="18" fill="#fff" stroke="#ff0000" stroke-width="1"/>
<text x="1368.2" y="176.0" font-family="Liberation Serif,serif" style="font-family:'Liberation Serif',serif"  font-size="19.4" fill="#ff0000" textLength="57.4" lengthAdjust="spacingAndGlyphs">1.26387</text>
<rect x="1428.5" y="167.5" width="3" height="3" fill="#fff" stroke="#ff0000"/><rect x="1432" y="169" width="6" height="1" fill="#ff0000" shape-rendering="crispEdges"/>
<line x1="1350.5" y1="66.0" x2="1487.9" y2="162.2" stroke="#ff0000" stroke-width="3.4" stroke-linecap="round"/>
<path d="M1494.0 166.5 L1483.5 164.9 L1488.9 157.2 Z" fill="#ff0000"/>
<line x1="1356.3" y1="592.3" x2="1479.0" y2="661.1" stroke="#ff0000" stroke-width="3.1" stroke-linecap="round"/>
<path d="M1485.5 664.8 L1474.9 664.3 L1479.5 656.0 Z" fill="#ff0000"/>
<line x1="1374.5" y1="824.2" x2="1467.2" y2="844.5" stroke="#ff0000" stroke-width="3.2" stroke-linecap="round"/>
<path d="M1475.0 846.2 L1464.3 848.2 L1466.1 839.9 Z" fill="#ff0000"/>
<g shape-rendering="crispEdges">
<rect x="5" y="665" width="1" height="62" fill="#c0c0c0"/>
<rect x="13" y="665" width="1" height="67" fill="#c0c0c0"/>
<rect x="21" y="665" width="1" height="70" fill="#c0c0c0"/>
<rect x="29" y="665" width="1" height="71" fill="#c0c0c0"/>
<rect x="37" y="665" width="1" height="73" fill="#c0c0c0"/>
<rect x="45" y="665" width="1" height="76" fill="#c0c0c0"/>
<rect x="53" y="665" width="1" height="76" fill="#c0c0c0"/>
<rect x="61" y="665" width="1" height="70" fill="#c0c0c0"/>
<rect x="69" y="665" width="1" height="66" fill="#c0c0c0"/>
<rect x="77" y="665" width="1" height="63" fill="#c0c0c0"/>
<rect x="85" y="665" width="1" height="58" fill="#c0c0c0"/>
<rect x="93" y="665" width="1" height="52" fill="#c0c0c0"/>
<rect x="101" y="665" width="1" height="46" fill="#c0c0c0"/>
<rect x="109" y="665" width="1" height="47" fill="#c0c0c0"/>
<rect x="117" y="665" width="1" height="44" fill="#c0c0c0"/>
<rect x="125" y="665" width="1" height="43" fill="#c0c0c0"/>
<rect x="133" y="665" width="1" height="44" fill="#c0c0c0"/>
<rect x="141" y="665" width="1" height="48" fill="#c0c0c0"/>
<rect x="149" y="665" width="1" height="49" fill="#c0c0c0"/>
<rect x="157" y="665" width="1" height="46" fill="#c0c0c0"/>
<rect x="165" y="665" width="1" height="44" fill="#c0c0c0"/>
<rect x="173" y="665" width="1" height="41" fill="#c0c0c0"/>
<rect x="181" y="665" width="1" height="41" fill="#c0c0c0"/>
<rect x="189" y="665" width="1" height="39" fill="#c0c0c0"/>
<rect x="197" y="665" width="1" height="37" fill="#c0c0c0"/>
<rect x="205" y="665" width="1" height="40" fill="#c0c0c0"/>
<rect x="213" y="665" width="1" height="42" fill="#c0c0c0"/>
<rect x="221" y="665" width="1" height="41" fill="#c0c0c0"/>
<rect x="229" y="665" width="1" height="45" fill="#c0c0c0"/>
<rect x="237" y="665" width="1" height="42" fill="#c0c0c0"/>
<rect x="245" y="665" width="1" height="40" fill="#c0c0c0"/>
<rect x="253" y="665" width="1" height="36" fill="#c0c0c0"/>
<rect x="261" y="665" width="1" height="28" fill="#c0c0c0"/>
<rect x="269" y="665" width="1" height="22" fill="#c0c0c0"/>
<rect x="277" y="665" width="1" height="21" fill="#c0c0c0"/>
<rect x="285" y="665" width="1" height="20" fill="#c0c0c0"/>
<rect x="293" y="665" width="1" height="20" fill="#c0c0c0"/>
<rect x="301" y="665" width="1" height="12" fill="#c0c0c0"/>
<rect x="309" y="665" width="1" height="10" fill="#c0c0c0"/>
<rect x="317" y="665" width="1" height="6" fill="#c0c0c0"/>
<rect x="325" y="665" width="1" height="8" fill="#c0c0c0"/>
<rect x="333" y="665" width="1" height="8" fill="#c0c0c0"/>
<rect x="341" y="665" width="1" height="6" fill="#c0c0c0"/>
<rect x="349" y="665" width="1" height="2" fill="#c0c0c0"/>
<rect x="357" y="664" width="1" height="2" fill="#c0c0c0"/>
<rect x="365" y="662" width="1" height="4" fill="#c0c0c0"/>
<rect x="373" y="660" width="1" height="6" fill="#c0c0c0"/>
<rect x="381" y="658" width="1" height="8" fill="#c0c0c0"/>
<rect x="389" y="659" width="1" height="7" fill="#c0c0c0"/>
<rect x="397" y="657" width="1" height="9" fill="#c0c0c0"/>
<rect x="405" y="655" width="1" height="11" fill="#c0c0c0"/>
<rect x="413" y="653" width="1" height="13" fill="#c0c0c0"/>
<rect x="421" y="652" width="1" height="14" fill="#c0c0c0"/>
<rect x="429" y="650" width="1" height="16" fill="#c0c0c0"/>
<rect x="437" y="646" width="1" height="20" fill="#c0c0c0"/>
<rect x="445" y="655" width="1" height="11" fill="#c0c0c0"/>
<rect x="453" y="658" width="1" height="8" fill="#c0c0c0"/>
<rect x="461" y="659" width="1" height="7" fill="#c0c0c0"/>
<rect x="469" y="660" width="1" height="6" fill="#c0c0c0"/>
<rect x="477" y="661" width="1" height="5" fill="#c0c0c0"/>
<rect x="485" y="664" width="1" height="2" fill="#c0c0c0"/>
<rect x="493" y="665" width="1" height="2" fill="#c0c0c0"/>
<rect x="501" y="665" width="1" height="6" fill="#c0c0c0"/>
<rect x="509" y="665" width="1" height="8" fill="#c0c0c0"/>
<rect x="517" y="665" width="1" height="10" fill="#c0c0c0"/>
<rect x="525" y="665" width="1" height="13" fill="#c0c0c0"/>
<rect x="533" y="665" width="1" height="12" fill="#c0c0c0"/>
<rect x="541" y="665" width="1" height="4" fill="#c0c0c0"/>
<rect x="549" y="665" width="1" height="2" fill="#c0c0c0"/>
<rect x="557" y="665" width="1" height="1" fill="#c0c0c0"/>
<rect x="565" y="663" width="1" height="3" fill="#c0c0c0"/>
<rect x="573" y="658" width="1" height="8" fill="#c0c0c0"/>
<rect x="581" y="659" width="1" height="7" fill="#c0c0c0"/>
<rect x="589" y="662" width="1" height="4" fill="#c0c0c0"/>
<rect x="597" y="664" width="1" height="2" fill="#c0c0c0"/>
<rect x="605" y="664" width="1" height="2" fill="#c0c0c0"/>
<rect x="613" y="662" width="1" height="4" fill="#c0c0c0"/>
<rect x="621" y="661" width="1" height="5" fill="#c0c0c0"/>
<rect x="629" y="656" width="1" height="10" fill="#c0c0c0"/>
<rect x="637" y="651" width="1" height="15" fill="#c0c0c0"/>
<rect x="645" y="650" width="1" height="16" fill="#c0c0c0"/>
<rect x="653" y="648" width="1" height="18" fill="#c0c0c0"/>
<rect x="661" y="645" width="1" height="21" fill="#c0c0c0"/>
<rect x="669" y="643" width="1" height="23" fill="#c0c0c0"/>
<rect x="677" y="643" width="1" height="23" fill="#c0c0c0"/>
<rect x="685" y="642" width="1" height="24" fill="#c0c0c0"/>
<rect x="693" y="647" width="1" height="19" fill="#c0c0c0"/>
<rect x="701" y="651" width="1" height="15" fill="#c0c0c0"/>
<rect x="709" y="652" width="1" height="14" fill="#c0c0c0"/>
<rect x="717" y="653" width="1" height="13" fill="#c0c0c0"/>
<rect x="725" y="651" width="1" height="15" fill="#c0c0c0"/>
<rect x="733" y="643" width="1" height="23" fill="#c0c0c0"/>
<rect x="741" y="638" width="1" height="28" fill="#c0c0c0"/>
<rect x="749" y="635" width="1" height="31" fill="#c0c0c0"/>
<rect x="757" y="631" width="1" height="35" fill="#c0c0c0"/>
<rect x="765" y="630" width="1" height="36" fill="#c0c0c0"/>
<rect x="773" y="627" width="1" height="39" fill="#c0c0c0"/>
<rect x="781" y="630" width="1" height="36" fill="#c0c0c0"/>
<rect x="789" y="629" width="1" height="37" fill="#c0c0c0"/>
<rect x="797" y="631" width="1" height="35" fill="#c0c0c0"/>
<rect x="805" y="632" width="1" height="34" fill="#c0c0c0"/>
<rect x="813" y="634" width="1" height="32" fill="#c0c0c0"/>
<rect x="821" y="637" width="1" height="29" fill="#c0c0c0"/>
<rect x="829" y="639" width="1" height="27" fill="#c0c0c0"/>
<rect x="837" y="641" width="1" height="25" fill="#c0c0c0"/>
<rect x="845" y="644" width="1" height="22" fill="#c0c0c0"/>
<rect x="853" y="644" width="1" height="22" fill="#c0c0c0"/>
<rect x="861" y="646" width="1" height="20" fill="#c0c0c0"/>
<rect x="869" y="648" width="1" height="18" fill="#c0c0c0"/>
<rect x="877" y="647" width="1" height="19" fill="#c0c0c0"/>
<rect x="885" y="650" width="1" height="16" fill="#c0c0c0"/>
<rect x="893" y="652" width="1" height="14" fill="#c0c0c0"/>
<rect x="901" y="654" width="1" height="12" fill="#c0c0c0"/>
<rect x="909" y="659" width="1" height="7" fill="#c0c0c0"/>
<rect x="917" y="661" width="1" height="5" fill="#c0c0c0"/>
<rect x="925" y="661" width="1" height="5" fill="#c0c0c0"/>
<rect x="933" y="653" width="1" height="13" fill="#c0c0c0"/>
<rect x="941" y="647" width="1" height="19" fill="#c0c0c0"/>
<rect x="949" y="640" width="1" height="26" fill="#c0c0c0"/>
<rect x="957" y="634" width="1" height="32" fill="#c0c0c0"/>
<rect x="965" y="623" width="1" height="43" fill="#c0c0c0"/>
<rect x="973" y="612" width="1" height="54" fill="#c0c0c0"/>
<rect x="981" y="604" width="1" height="62" fill="#c0c0c0"/>
<rect x="989" y="597" width="1" height="69" fill="#c0c0c0"/>
<rect x="997" y="592" width="1" height="74" fill="#c0c0c0"/>
<rect x="1005" y="591" width="1" height="75" fill="#c0c0c0"/>
<rect x="1013" y="589" width="1" height="77" fill="#c0c0c0"/>
<rect x="1021" y="591" width="1" height="75" fill="#c0c0c0"/>
<rect x="1029" y="597" width="1" height="69" fill="#c0c0c0"/>
<rect x="1037" y="603" width="1" height="63" fill="#c0c0c0"/>
<rect x="1045" y="610" width="1" height="56" fill="#c0c0c0"/>
<rect x="1053" y="617" width="1" height="49" fill="#c0c0c0"/>
<rect x="1061" y="624" width="1" height="42" fill="#c0c0c0"/>
<rect x="1069" y="630" width="1" height="36" fill="#c0c0c0"/>
<rect x="1077" y="637" width="1" height="29" fill="#c0c0c0"/>
<rect x="1085" y="642" width="1" height="24" fill="#c0c0c0"/>
<rect x="1093" y="648" width="1" height="18" fill="#c0c0c0"/>
<rect x="1101" y="651" width="1" height="15" fill="#c0c0c0"/>
<rect x="1109" y="652" width="1" height="14" fill="#c0c0c0"/>
<rect x="1117" y="651" width="1" height="15" fill="#c0c0c0"/>
<rect x="1125" y="647" width="1" height="19" fill="#c0c0c0"/>
<rect x="1133" y="644" width="1" height="22" fill="#c0c0c0"/>
<rect x="1141" y="640" width="1" height="26" fill="#c0c0c0"/>
<rect x="1149" y="641" width="1" height="25" fill="#c0c0c0"/>
<rect x="1157" y="639" width="1" height="27" fill="#c0c0c0"/>
<rect x="1165" y="635" width="1" height="31" fill="#c0c0c0"/>
<rect x="1173" y="628" width="1" height="38" fill="#c0c0c0"/>
<rect x="1181" y="624" width="1" height="42" fill="#c0c0c0"/>
<rect x="1189" y="619" width="1" height="47" fill="#c0c0c0"/>
<rect x="1197" y="620" width="1" height="46" fill="#c0c0c0"/>
<rect x="1205" y="620" width="1" height="46" fill="#c0c0c0"/>
<rect x="1213" y="616" width="1" height="50" fill="#c0c0c0"/>
<rect x="1221" y="618" width="1" height="48" fill="#c0c0c0"/>
<rect x="1229" y="620" width="1" height="46" fill="#c0c0c0"/>
<rect x="1237" y="623" width="1" height="43" fill="#c0c0c0"/>
<rect x="1245" y="626" width="1" height="40" fill="#c0c0c0"/>
<rect x="1253" y="621" width="1" height="45" fill="#c0c0c0"/>
<rect x="1261" y="619" width="1" height="47" fill="#c0c0c0"/>
<rect x="1269" y="615" width="1" height="51" fill="#c0c0c0"/>
<rect x="1277" y="614" width="1" height="52" fill="#c0c0c0"/>
<rect x="1285" y="615" width="1" height="51" fill="#c0c0c0"/>
<rect x="1293" y="616" width="1" height="50" fill="#c0c0c0"/>
<rect x="1301" y="618" width="1" height="48" fill="#c0c0c0"/>
<rect x="1309" y="615" width="1" height="51" fill="#c0c0c0"/>
<rect x="1317" y="610" width="1" height="56" fill="#c0c0c0"/>
<rect x="1325" y="606" width="1" height="60" fill="#c0c0c0"/>
<rect x="1333" y="603" width="1" height="63" fill="#c0c0c0"/>
<rect x="1341" y="600" width="1" height="66" fill="#c0c0c0"/>
<rect x="1349" y="595" width="1" height="71" fill="#c0c0c0"/>
<rect x="1357" y="592" width="1" height="74" fill="#c0c0c0"/>
<rect x="1365" y="601" width="1" height="65" fill="#c0c0c0"/>
<rect x="1373" y="607" width="1" height="59" fill="#c0c0c0"/>
<rect x="1381" y="611" width="1" height="55" fill="#c0c0c0"/>
<rect x="1389" y="616" width="1" height="50" fill="#c0c0c0"/>
<rect x="1397" y="619" width="1" height="47" fill="#c0c0c0"/>
<rect x="1405" y="622" width="1" height="44" fill="#c0c0c0"/>
<rect x="1413" y="628" width="1" height="38" fill="#c0c0c0"/>
<rect x="1421" y="634" width="1" height="32" fill="#c0c0c0"/>
<rect x="1429" y="640" width="1" height="26" fill="#c0c0c0"/>
<rect x="1437" y="647" width="1" height="19" fill="#c0c0c0"/>
<rect x="1445" y="650" width="1" height="16" fill="#c0c0c0"/>
<rect x="1453" y="654" width="1" height="12" fill="#c0c0c0"/>
<rect x="1461" y="658" width="1" height="8" fill="#c0c0c0"/>
<rect x="1469" y="660" width="1" height="6" fill="#c0c0c0"/>
</g>
<polyline points="0.0,720.5 15.0,721.2 25.0,723.8 37.5,726.2 45.0,729.2 53.8,732.5 65.0,733.8 75.0,735.0 85.0,733.5 95.0,731.8 105.0,728.0 117.5,723.0 130.0,717.5 140.0,714.2 155.0,712.2 175.0,710.0 190.0,708.8 205.0,707.5 225.0,706.8 245.0,705.5 260.0,704.2 275.0,701.0 290.0,695.5 305.0,689.8 317.5,683.8 332.5,678.5 350.0,675.5 360.0,671.8 375.0,668.5 385.0,665.5 397.5,664.2 407.5,660.0 423.8,656.8 434.0,653.8 449.0,653.5 474.0,653.5 484.0,655.0 499.0,658.0 509.0,663.0 519.0,666.0 529.0,668.5 541.5,670.5 554.0,671.8 564.0,670.5 576.5,668.5 586.5,666.8 596.5,664.2 609.0,663.0 624.0,660.5 639.0,658.5 649.0,657.5 659.0,654.2 674.0,651.2 684.0,648.8 691.5,646.2 719.0,646.2 724.0,648.0 734.0,646.0 749.0,645.0 759.0,643.5 774.0,639.2 781.5,637.5 789.0,634.2 799.0,631.8 809.0,630.5 824.0,630.5 836.5,632.2 847.8,634.2 858.0,637.2 870.5,638.8 883.0,642.5 893.0,644.8 905.5,646.8 918.0,650.5 930.5,653.0 943.0,653.0 953.0,651.0 963.0,648.8 973.0,641.8 983.0,635.0 993.0,625.5 1003.0,616.8 1013.0,609.2 1023.0,602.2 1033.0,597.5 1043.0,596.5 1053.0,597.2 1063.0,601.8 1073.0,608.0 1083.0,614.8 1093.0,622.5 1103.0,629.2 1113.0,636.0 1123.0,640.5 1133.0,644.2 1143.0,645.5 1155.5,645.0 1165.5,643.8 1178.0,639.8 1182.5,637.5 1195.0,631.8 1210.0,627.2 1220.0,623.5 1232.5,621.0 1255.0,619.2 1280.0,618.5 1305.0,618.0 1315.0,615.5 1330.0,611.8 1345.0,608.5 1360.0,605.0 1372.5,603.0 1382.5,602.5 1392.5,603.0 1405.0,606.0 1417.5,611.8 1430.0,619.2 1442.5,627.5 1455.0,635.0 1467.5,642.5" fill="none" stroke="#ff0000" stroke-width="1" stroke-dasharray="3 3" shape-rendering="crispEdges"/>
<g shape-rendering="crispEdges">
<line x1="2" y1="787.5" x2="1648" y2="787.5" stroke="#c0c0c0" stroke-width="1" stroke-dasharray="3 3"/>
<line x1="2" y1="838.5" x2="1648" y2="838.5" stroke="#c0c0c0" stroke-width="1" stroke-dasharray="3 3"/>
<line x1="2" y1="899.5" x2="1648" y2="899.5" stroke="#c0c0c0" stroke-width="1" stroke-dasharray="3 3"/>
</g>
<polyline points="0.0,874.2 5.5,877.5 13.5,882.5 21.5,872.5 29.5,873.2 37.5,877.5 45.5,881.2 53.5,871.2 61.5,855.5 69.5,856.8 77.5,859.5 85.5,850.5 93.5,851.2 101.5,848.2 109.5,860.5 117.5,851.2 125.5,855.0 133.5,862.5 141.5,866.2 149.5,864.5 157.5,856.2 165.5,848.8 173.5,853.2 181.5,857.5 189.5,854.5 197.5,851.2 205.5,861.2 213.5,862.5 221.5,861.2 229.5,870.5 237.5,853.8 245.5,849.5 253.5,845.8 261.5,831.2 269.5,833.2 277.5,843.2 285.5,846.2 293.5,849.2 301.5,828.8 309.5,835.0 317.5,833.2 325.5,844.2 333.5,845.5 341.5,837.5 349.5,832.0 357.5,828.2 365.5,831.2 373.5,833.2 381.5,828.8 389.5,840.0 397.5,829.5 405.5,829.5 413.5,828.8 421.5,828.2 429.5,824.2 437.5,817.5 445.5,852.5 453.5,842.5 461.5,839.2 469.5,838.0 477.5,839.5 485.5,845.5 493.5,848.2 501.5,851.8 509.5,848.2 517.5,846.2 525.5,851.8 533.5,843.8 541.5,824.2 549.5,835.0 557.5,831.2 565.5,831.2 573.5,824.2 581.5,838.0 589.5,844.5 597.5,840.5 605.5,837.0 613.5,834.2 621.5,831.2 629.5,823.8 637.5,819.2 645.5,828.2 653.5,826.2 661.5,822.5 669.5,821.8 677.5,827.0 685.5,823.2 693.5,839.2 701.5,844.5 709.5,834.2 717.5,836.8 725.5,826.8 733.5,812.0 741.5,814.2 749.5,817.5 757.5,814.5 765.5,816.2 773.5,812.0 781.5,828.2 789.5,821.2 797.5,825.5 805.5,823.2 813.5,828.2 821.5,832.5 829.5,829.2 837.5,830.5 845.5,831.2 853.5,825.0 861.5,835.5 869.5,832.0 877.5,824.2 885.5,838.2 893.5,839.5 901.5,835.5 909.5,850.5 917.5,840.0 925.5,835.8 933.5,813.8 941.5,819.2 949.5,812.0 957.5,809.2 965.5,800.0 973.5,795.5 981.5,796.2 989.5,794.5 997.5,793.2 1005.5,805.5 1013.5,801.2 1021.5,812.0 1029.5,821.2 1037.5,825.5 1045.5,830.5 1053.5,835.5 1061.5,835.5 1069.5,836.8 1077.5,842.5 1085.5,840.5 1093.5,847.5 1101.5,841.2 1109.5,833.8 1117.5,826.8 1125.5,819.5 1133.5,816.2 1141.5,812.0 1149.5,830.5 1157.5,823.0 1165.5,814.5 1173.5,807.5 1181.5,808.8 1189.5,806.2 1197.5,819.5 1205.5,818.0 1213.5,806.2 1221.5,826.2 1229.5,825.0 1237.5,826.2 1245.5,829.5 1253.5,811.2 1261.5,817.0 1269.5,810.8 1277.5,814.5 1285.5,820.5 1293.5,819.2 1301.5,823.2 1309.5,810.8 1317.5,806.2 1325.5,805.0 1333.5,803.8 1341.5,802.0 1349.5,795.8 1357.5,810.0 1365.5,825.0 1373.5,828.2 1381.5,823.8 1389.5,826.2 1397.5,824.2 1405.5,828.8 1413.5,833.8 1421.5,838.0 1429.5,842.0 1437.5,847.5 1445.5,838.0 1453.5,840.0 1461.5,842.5 1469.5,844.5" fill="none" stroke="#1e90ff" stroke-width="1" shape-rendering="crispEdges"/>
<line x1="1356.3" y1="592.3" x2="1479.0" y2="661.1" stroke="#ff0000" stroke-width="3.1" stroke-linecap="round"/>
<path d="M1485.5 664.8 L1474.9 664.3 L1479.5 656.0 Z" fill="#ff0000"/>
<line x1="1374.5" y1="824.2" x2="1467.2" y2="844.5" stroke="#ff0000" stroke-width="3.2" stroke-linecap="round"/>
<path d="M1475.0 846.2 L1464.3 848.2 L1466.1 839.9 Z" fill="#ff0000"/>
<g shape-rendering="crispEdges">
<rect x="1649" y="46" width="2" height="1" fill="#000"/>
<rect x="1649" y="79" width="2" height="1" fill="#000"/>
<rect x="1649" y="112" width="2" height="1" fill="#000"/>
<rect x="1649" y="145" width="2" height="1" fill="#000"/>
<rect x="1649" y="178" width="2" height="1" fill="#000"/>
<rect x="1649" y="211" width="2" height="1" fill="#000"/>
<rect x="1649" y="244" width="2" height="1" fill="#000"/>
<rect x="1649" y="277" width="2" height="1" fill="#000"/>
<rect x="1649" y="310" width="2" height="1" fill="#000"/>
<rect x="1649" y="343" width="2" height="1" fill="#000"/>
<rect x="1649" y="376" width="2" height="1" fill="#000"/>
<rect x="1649" y="409" width="2" height="1" fill="#000"/>
<rect x="1649" y="442" width="2" height="1" fill="#000"/>
<rect x="1649" y="475" width="2" height="1" fill="#000"/>
<rect x="1649" y="508" width="2" height="1" fill="#000"/>
<rect x="1649" y="541" width="2" height="1" fill="#000"/>
<rect x="1649" y="574" width="2" height="1" fill="#000"/>
</g>
<text x="1654.6" y="49.6" font-size="9.8" fill="#000" textLength="32.2" lengthAdjust="spacingAndGlyphs" >1.27485</text>
<text x="1654.6" y="82.6" font-size="9.8" fill="#000" textLength="32.2" lengthAdjust="spacingAndGlyphs" >1.27190</text>
<text x="1654.6" y="115.6" font-size="9.8" fill="#000" textLength="32.2" lengthAdjust="spacingAndGlyphs" >1.26895</text>
<text x="1654.6" y="148.6" font-size="9.8" fill="#000" textLength="32.2" lengthAdjust="spacingAndGlyphs" >1.26600</text>
<text x="1654.6" y="181.6" font-size="9.8" fill="#000" textLength="32.2" lengthAdjust="spacingAndGlyphs" >1.26305</text>
<text x="1654.6" y="214.6" font-size="9.8" fill="#000" textLength="32.2" lengthAdjust="spacingAndGlyphs" >1.26010</text>
<text x="1654.6" y="247.6" font-size="9.8" fill="#000" textLength="32.2" lengthAdjust="spacingAndGlyphs" >1.25715</text>
<text x="1654.6" y="280.6" font-size="9.8" fill="#000" textLength="32.2" lengthAdjust="spacingAndGlyphs" >1.25420</text>
<text x="1654.6" y="313.6" font-size="9.8" fill="#000" textLength="32.2" lengthAdjust="spacingAndGlyphs" >1.25130</text>
<text x="1654.6" y="346.6" font-size="9.8" fill="#000" textLength="32.2" lengthAdjust="spacingAndGlyphs" >1.24835</text>
<text x="1654.6" y="379.6" font-size="9.8" fill="#000" textLength="32.2" lengthAdjust="spacingAndGlyphs" >1.24540</text>
<text x="1654.6" y="412.6" font-size="9.8" fill="#000" textLength="32.2" lengthAdjust="spacingAndGlyphs" >1.24245</text>
<text x="1654.6" y="445.6" font-size="9.8" fill="#000" textLength="32.2" lengthAdjust="spacingAndGlyphs" >1.23950</text>
<text x="1654.6" y="478.6" font-size="9.8" fill="#000" textLength="32.2" lengthAdjust="spacingAndGlyphs" >1.23655</text>
<text x="1654.6" y="511.6" font-size="9.8" fill="#000" textLength="32.2" lengthAdjust="spacingAndGlyphs" >1.23360</text>
<text x="1654.6" y="544.6" font-size="9.8" fill="#000" textLength="32.2" lengthAdjust="spacingAndGlyphs" >1.23065</text>
<text x="1654.6" y="577.6" font-size="9.8" fill="#000" textLength="32.2" lengthAdjust="spacingAndGlyphs" >1.22770</text>
<rect x="1650" y="87" width="41" height="11" fill="#ff0000" shape-rendering="crispEdges"/>
<text x="1654.6" y="95.8" font-size="9.8" fill="#fff" textLength="32.2" lengthAdjust="spacingAndGlyphs" >1.27064</text>
<rect x="1643.5" y="91.5" width="4" height="4" fill="#fff" stroke="#ff0000" stroke-width="1" shape-rendering="crispEdges"/>
<rect x="1650" y="116" width="41" height="11" fill="#ff0000" shape-rendering="crispEdges"/>
<text x="1654.6" y="124.8" font-size="9.8" fill="#fff" textLength="32.2" lengthAdjust="spacingAndGlyphs" >1.26805</text>
<rect x="1643.5" y="120.5" width="4" height="4" fill="#fff" stroke="#ff0000" stroke-width="1" shape-rendering="crispEdges"/>
<rect x="1650" y="141" width="41" height="11" fill="#ffa500" shape-rendering="crispEdges"/>
<text x="1654.6" y="149.8" font-size="9.8" fill="#fff" textLength="32.2" lengthAdjust="spacingAndGlyphs" >1.26583</text>
<rect x="1650" y="153" width="41" height="11" fill="#000000" shape-rendering="crispEdges"/>
<text x="1654.6" y="161.8" font-size="9.8" fill="#fff" textLength="32.2" lengthAdjust="spacingAndGlyphs" >1.26475</text>
<rect x="1650" y="179" width="41" height="11" fill="#0000ff" shape-rendering="crispEdges"/>
<text x="1654.6" y="187.8" font-size="9.8" fill="#fff" textLength="32.2" lengthAdjust="spacingAndGlyphs" >1.26244</text>
<rect x="1643.5" y="183.5" width="4" height="4" fill="#fff" stroke="#0000ff" stroke-width="1" shape-rendering="crispEdges"/>
<rect x="1650" y="204" width="41" height="11" fill="#0000ff" shape-rendering="crispEdges"/>
<text x="1654.6" y="212.8" font-size="9.8" fill="#fff" textLength="32.2" lengthAdjust="spacingAndGlyphs" >1.26021</text>
<rect x="1643.5" y="208.5" width="4" height="4" fill="#fff" stroke="#0000ff" stroke-width="1" shape-rendering="crispEdges"/>
<text x="1652.2" y="590.4" font-size="9.8" fill="#000" textLength="37.8" lengthAdjust="spacingAndGlyphs" >0.004524</text>
<rect x="1649" y="665" width="2" height="1" fill="#000" shape-rendering="crispEdges"/><rect x="1649" y="574" width="2" height="1" fill="#000" shape-rendering="crispEdges"/><rect x="1649" y="581" width="2" height="1" fill="#000" shape-rendering="crispEdges"/><rect x="1649" y="747" width="2" height="1" fill="#000" shape-rendering="crispEdges"/><rect x="1649" y="753" width="2" height="1" fill="#000" shape-rendering="crispEdges"/>
<text x="1652.3" y="669" font-size="9.8" fill="#000" textLength="17.5" lengthAdjust="spacingAndGlyphs" >0.00</text>
<text x="1652.3" y="746.2" font-size="9.8" fill="#000" textLength="35.4" lengthAdjust="spacingAndGlyphs" >-0.00447</text>
<text x="1652.5" y="762" font-size="9.8" fill="#000" textLength="14.2" lengthAdjust="spacingAndGlyphs" >100</text>
<text x="1651" y="791" font-size="9.8" fill="#000" textLength="9.8" lengthAdjust="spacingAndGlyphs" >80</text>
<text x="1651" y="842" font-size="9.8" fill="#000" textLength="9.8" lengthAdjust="spacingAndGlyphs" >50</text>
<text x="1651" y="903" font-size="9.8" fill="#000" textLength="9.8" lengthAdjust="spacingAndGlyphs" >15</text>
<text x="1652.3" y="922" font-size="9.8" fill="#000" textLength="4.8" lengthAdjust="spacingAndGlyphs" >0</text>
<text x="-7" y="590.8" font-size="9.8" fill="#000" textLength="148" lengthAdjust="spacingAndGlyphs" >MACD(12,26,9) 0.000319 0.001189</text>
<text x="-7" y="762.8" font-size="9.8" fill="#000" textLength="67.6" lengthAdjust="spacingAndGlyphs" >RSI(14) 47.1879</text>
<g shape-rendering="crispEdges">
<rect x="53" y="926" width="1" height="3" fill="#000"/>
<rect x="117" y="926" width="1" height="3" fill="#000"/>
<rect x="181" y="926" width="1" height="3" fill="#000"/>
<rect x="245" y="926" width="1" height="3" fill="#000"/>
<rect x="309" y="926" width="1" height="3" fill="#000"/>
<rect x="373" y="926" width="1" height="3" fill="#000"/>
<rect x="437" y="926" width="1" height="3" fill="#000"/>
<rect x="501" y="926" width="1" height="3" fill="#000"/>
<rect x="565" y="926" width="1" height="3" fill="#000"/>
<rect x="629" y="926" width="1" height="3" fill="#000"/>
<rect x="693" y="926" width="1" height="3" fill="#000"/>
<rect x="757" y="926" width="1" height="3" fill="#000"/>
<rect x="821" y="926" width="1" height="3" fill="#000"/>
<rect x="885" y="926" width="1" height="3" fill="#000"/>
<rect x="949" y="926" width="1" height="3" fill="#000"/>
<rect x="1013" y="926" width="1" height="3" fill="#000"/>
<rect x="1077" y="926" width="1" height="3" fill="#000"/>
<rect x="1141" y="926" width="1" height="3" fill="#000"/>
<rect x="1205" y="926" width="1" height="3" fill="#000"/>
<rect x="1269" y="926" width="1" height="3" fill="#000"/>
<rect x="1333" y="926" width="1" height="3" fill="#000"/>
<rect x="1397" y="926" width="1" height="3" fill="#000"/>
<rect x="1461" y="926" width="1" height="3" fill="#000"/>
</g>
<text x="39" y="937.3" font-size="9.8" fill="#000" text-anchor="end" textLength="50.9" lengthAdjust="spacingAndGlyphs" >14 Oct 2021</text>
<text x="52.3" y="937.3" font-size="9.8" fill="#000" textLength="53.5" lengthAdjust="spacingAndGlyphs" >15 Oct 08:00</text>
<text x="116.3" y="937.3" font-size="9.8" fill="#000" textLength="53.5" lengthAdjust="spacingAndGlyphs" >18 Oct 16:00</text>
<text x="180.3" y="937.3" font-size="9.8" fill="#000" textLength="53.5" lengthAdjust="spacingAndGlyphs" >20 Oct 00:00</text>
<text x="244.3" y="937.3" font-size="9.8" fill="#000" textLength="53.5" lengthAdjust="spacingAndGlyphs" >21 Oct 08:00</text>
<text x="308.3" y="937.3" font-size="9.8" fill="#000" textLength="53.5" lengthAdjust="spacingAndGlyphs" >22 Oct 16:00</text>
<text x="372.3" y="937.3" font-size="9.8" fill="#000" textLength="53.5" lengthAdjust="spacingAndGlyphs" >26 Oct 00:00</text>
<text x="436.3" y="937.3" font-size="9.8" fill="#000" textLength="53.5" lengthAdjust="spacingAndGlyphs" >27 Oct 08:00</text>
<text x="500.3" y="937.3" font-size="9.8" fill="#000" textLength="53.5" lengthAdjust="spacingAndGlyphs" >28 Oct 16:00</text>
<text x="564.3" y="937.3" font-size="9.8" fill="#000" textLength="50.4" lengthAdjust="spacingAndGlyphs" >1 Nov 00:00</text>
<text x="628.3" y="937.3" font-size="9.8" fill="#000" textLength="50.4" lengthAdjust="spacingAndGlyphs" >2 Nov 08:00</text>
<text x="692.3" y="937.3" font-size="9.8" fill="#000" textLength="50.4" lengthAdjust="spacingAndGlyphs" >3 Nov 16:00</text>
<text x="756.3" y="937.3" font-size="9.8" fill="#000" textLength="50.4" lengthAdjust="spacingAndGlyphs" >5 Nov 00:00</text>
<text x="820.3" y="937.3" font-size="9.8" fill="#000" textLength="50.4" lengthAdjust="spacingAndGlyphs" >8 Nov 08:00</text>
<text x="884.3" y="937.3" font-size="9.8" fill="#000" textLength="50.4" lengthAdjust="spacingAndGlyphs" >9 Nov 16:00</text>
<text x="948.3" y="937.3" font-size="9.8" fill="#000" textLength="54.9" lengthAdjust="spacingAndGlyphs" >11 Nov 00:00</text>
<text x="1012.3" y="937.3" font-size="9.8" fill="#000" textLength="55.6" lengthAdjust="spacingAndGlyphs" >12 Nov 08:00</text>
<text x="1076.3" y="937.3" font-size="9.8" fill="#000" textLength="55.6" lengthAdjust="spacingAndGlyphs" >15 Nov 16:00</text>
<text x="1140.3" y="937.3" font-size="9.8" fill="#000" textLength="55.6" lengthAdjust="spacingAndGlyphs" >17 Nov 00:00</text>
<text x="1204.3" y="937.3" font-size="9.8" fill="#000" textLength="55.6" lengthAdjust="spacingAndGlyphs" >18 Nov 08:00</text>
<text x="1268.3" y="937.3" font-size="9.8" fill="#000" textLength="55.6" lengthAdjust="spacingAndGlyphs" >19 Nov 16:00</text>
<text x="1332.3" y="937.3" font-size="9.8" fill="#000" textLength="55.6" lengthAdjust="spacingAndGlyphs" >23 Nov 00:00</text>
<text x="1396.3" y="937.3" font-size="9.8" fill="#000" textLength="55.6" lengthAdjust="spacingAndGlyphs" >24 Nov 08:00</text>
<text x="1460.3" y="937.3" font-size="9.8" fill="#000" textLength="55.6" lengthAdjust="spacingAndGlyphs" >25 Nov 16:00</text>
<text x="4.2" y="36" font-size="9.8" fill="#000" textLength="58.5" lengthAdjust="spacingAndGlyphs" >USDCAD-,H4</text>
<text x="69.4" y="36" font-size="9.8" fill="#000" textLength="140.2" lengthAdjust="spacingAndGlyphs" >1.26485 1.26515 1.26457 1.26475</text>
<defs>
<linearGradient id="pb" x1="0" y1="0" x2="0" y2="1"><stop offset="0" stop-color="#5252fa"/><stop offset="1" stop-color="#3a3add"/></linearGradient>
<linearGradient id="pp" x1="0" y1="0" x2="0" y2="1"><stop offset="0" stop-color="#3434d8"/><stop offset="0.5" stop-color="#1c1cc4"/><stop offset="1" stop-color="#0000a6"/></linearGradient>
<linearGradient id="pg" x1="0" y1="0" x2="0" y2="1"><stop offset="0" stop-color="#f2f2f2"/><stop offset="0.45" stop-color="#e6e6e6"/><stop offset="0.5" stop-color="#d6d6d6"/><stop offset="1" stop-color="#cfcfcf"/></linearGradient>
</defs>
<g shape-rendering="crispEdges">
<rect x="0" y="44" width="212" height="58" fill="#fff"/>
<rect x="0" y="44" width="44" height="24" fill="#1c1cb4"/>
<rect x="0" y="45" width="43" height="23" fill="url(#pb)"/>
<rect x="159" y="44" width="52" height="24" fill="#1c1cb4"/>
<rect x="160" y="45" width="50" height="23" fill="url(#pb)"/>
<rect x="0" y="68" width="101" height="33" fill="#1414a8"/>
<rect x="0" y="69" width="100" height="31" fill="url(#pp)"/>
<rect x="103" y="68" width="108" height="33" fill="#1414a8"/>
<rect x="104" y="69" width="106" height="31" fill="url(#pp)"/>
<rect x="0" y="67" width="43" height="2" fill="#3a3add"/>
<rect x="160" y="67" width="50" height="2" fill="#3a3add"/>
<rect x="0" y="68" width="40" height="1" fill="#7c7cf4"/>
<rect x="163" y="68" width="44" height="1" fill="#7c7cf4"/>
<rect x="46" y="44" width="111" height="22" fill="#a6a6ae"/>
<rect x="47" y="45" width="109" height="20" fill="#fff"/>
<rect x="48" y="46" width="19" height="18" fill="url(#pg)"/>
<rect x="67" y="45" width="1" height="20" fill="#a6a6ae"/>
<rect x="135" y="45" width="1" height="20" fill="#a6a6ae"/>
<rect x="136" y="46" width="19" height="18" fill="url(#pg)"/>
</g>
<path d="M54 53.5 L59 53.5 L56.5 56.2 Z" fill="#4a5ec4"/>
<path d="M143 56 L148 56 L145.5 53.2 Z" fill="#4a5ec4"/>
<text x="4.6" y="60.2" font-size="12.4" fill="#fff" font-weight="normal" textLength="25.5" lengthAdjust="spacingAndGlyphs">SELL</text>
<text x="172.7" y="60.2" font-size="12.4" fill="#fff" font-weight="normal" textLength="23.2" lengthAdjust="spacingAndGlyphs">BUY</text>
<text x="108.5" y="59.2" font-size="12.8" fill="#000" font-weight="normal" textLength="23.2" lengthAdjust="spacingAndGlyphs">1.00</text>
<text x="12.6" y="96" font-size="12.4" fill="#fff" font-weight="bold" textLength="23.2" lengthAdjust="spacingAndGlyphs">1.26</text>
<text x="38.6" y="95.9" font-size="34.4" fill="#fff" font-weight="normal" textLength="35.6" lengthAdjust="spacingAndGlyphs">47</text>
<text x="79.3" y="79.2" font-size="11.8" fill="#fff" font-weight="bold" textLength="6.4" lengthAdjust="spacingAndGlyphs">5</text>
<text x="122.5" y="96" font-size="12.4" fill="#fff" font-weight="bold" textLength="23.2" lengthAdjust="spacingAndGlyphs">1.26</text>
<text x="151.6" y="95.9" font-size="34.4" fill="#fff" font-weight="normal" textLength="34" lengthAdjust="spacingAndGlyphs">51</text>
<text x="190" y="79.2" font-size="11.8" fill="#fff" font-weight="bold" textLength="6.8" lengthAdjust="spacingAndGlyphs">8</text>
</svg></body></html>
